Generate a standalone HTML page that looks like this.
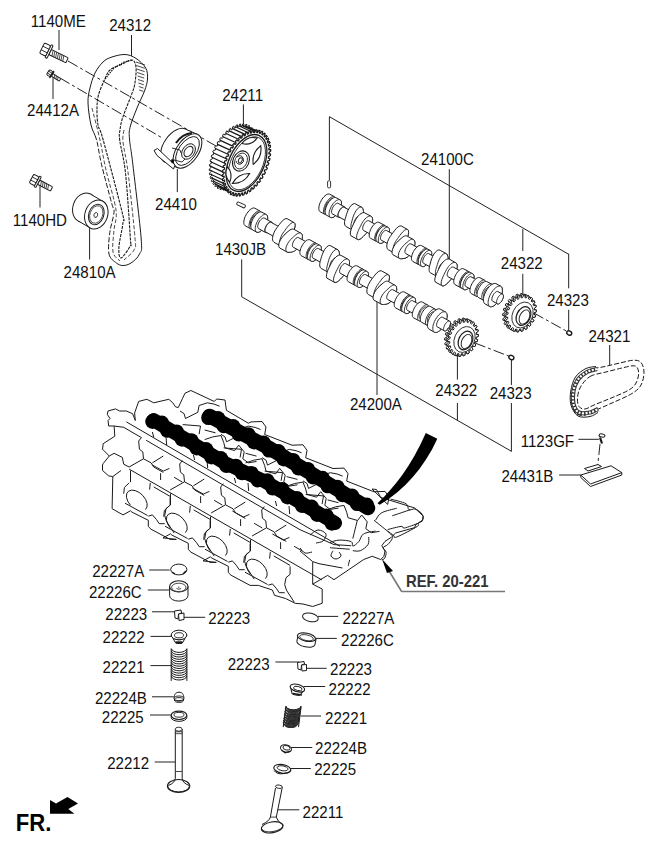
<!DOCTYPE html>
<html><head><meta charset="utf-8"><style>
html,body{margin:0;padding:0;background:#fff;width:659px;height:848px;overflow:hidden}
svg{display:block;font-family:"Liberation Sans",sans-serif;font-size:16.5px;fill:#111}
</style></head><body>
<svg width="659" height="848" viewBox="0 0 659 848">
<path d="M59 30L59 50 M131.5 35L131.5 56 M53 75L53 99 M243.4 104.4L243.4 126.7 M177.3 169L177.3 192 M40 186L40 207.5 M89.6 226L89.6 259.5 M449.3 169.2L449.3 259.3 M522.8 229.1L522.8 251 M522.8 273.8L522.8 294.7 M568.7 253.7L568.7 288.3 M568.7 309.8L568.7 331.1 M609.7 345L609.7 365 M377 296.8L377 395 M457.4 355L457.4 379.6 M457.4 403L457.4 420.4 M511.4 359.6L511.4 385 M511.4 403L511.4 451.4 M578.4 439.3L598.9 439.3 M559.1 475L580.8 475 M149.2 570L169.7 570 M147.8 590L169.7 590 M152 611.8L175 611.8 M182 617.3L205.2 617.3 M150.5 636.4L171 636.4 M150.5 665.6L171 665.6 M152 696.8L173.8 696.8 M150 715L171 715 M154.7 762L175.1 762 M318 616.4L338.2 616.4 M315.2 638.4L336.8 638.4 M275.4 662L299.3 662 M305 668.3L326.7 668.3 M303.6 686.5L325.2 686.5 M300.7 716L321 716 M290.6 747.5L312.3 747.5 M290.6 768.5L310.8 768.5 M277.7 809.8L299.3 809.8" stroke="#222" stroke-width="1" fill="none"/>
<path d="M329.4 116.7L568.7 254.3M329.4 116.7V180 M241.7 259.4V296.8L511.6 451.4" stroke="#222" stroke-width="1" fill="none"/>
<polygon points="108.7,426 108,420.5 110,418.5 107.3,414.4 108,411 115.5,408.9 119.6,411 126.4,411 132.6,413.7 135.3,420.5 134.6,413 138.7,401.4 146.9,399.3 153.7,402.8 168.8,399.3 172.8,402.8 175.6,406.9 178.3,407.5 182.4,398.7 185,393.2 190.9,390.5 214.1,401.4 216.9,399 225,400 226.4,410.3 248.3,423.2 251,421.9 262,421.5 266,427 264.7,434.5 292,445.2 303,444.8 307,450.3 305.7,457.8 333,468.5 344,468.1 348,473.6 346.7,481.1 374,491.8 385,491.4 389,496.9 387.7,504.4 372,489 376.5,489.5 380.7,497.4 414.7,508 423.2,516 422.2,521.2 415.8,524.4 414.7,527.6 395.6,533 391.4,537.2 385,541.4 381.8,545.7 385,551 383.9,556.3 380.7,559.5 372.2,556.3 363.7,559.5 334,579.7 327.6,575.4 312.7,584.2 322.2,589 322.2,603.3 312.7,606.5 303,604 295.2,603.3 285.6,598.5 274.5,595.3 272.4,590 258.3,585.4 250.1,585.4 231,575.2 228.3,572.5 228.3,566.3 211.9,558.1 210.5,556.8 203,560.9 216.3,562.4 210.1,562.4 191,552.2 188.3,549.5 188.3,543.3 171.9,535.1 170.5,533.8 163,537.9 176.3,539.4 170.1,539.4 151,529.2 148.3,526.5 148.3,520.3 131.9,512.1 130.5,510.8 123,514.9 112.1,508.7 112.8,476.6 108.7,475.9 102.5,470.5 102.5,465 103.2,463.5 109.3,456 102.5,449.2 103.2,443.7 114.8,436.2 114.1,426" fill="#fff" stroke="#1a1a1a" stroke-width="1" stroke-linejoin="round"/><polyline points="126.4,421.9 340,546.3" fill="none" stroke="#1a1a1a" stroke-width="1" stroke-linejoin="round"/><polyline points="146.2,440.3 300,529.7" fill="none" stroke="#1a1a1a" stroke-width="1" stroke-linejoin="round"/><polyline points="129.1,469.1 322,580" fill="none" stroke="#1a1a1a" stroke-width="1" stroke-linejoin="round"/><polyline points="112.8,476.6 121,470.5" fill="none" stroke="#1a1a1a" stroke-width="1" stroke-linejoin="round"/><polyline points="114.1,426 123.7,427.3 141.4,437.6" fill="none" stroke="#1a1a1a" stroke-width="1" stroke-linejoin="round"/><polyline points="300,551 312.7,561.6 319,563.7 342.5,568" fill="none" stroke="#1a1a1a" stroke-width="1" stroke-linejoin="round"/><polyline points="300,529.7 334,544.6 351,545.7" fill="none" stroke="#1a1a1a" stroke-width="1" stroke-linejoin="round"/><path d="M130.4 505.1A12.5 7.8 45 1 1 145.4 509.6" fill="none" stroke="#1a1a1a" stroke-width="1"/><polyline points="129.1,482.8 124.4,487.5 123.7,493.7" fill="none" stroke="#1a1a1a" stroke-width="1" stroke-linejoin="round"/><polyline points="130.5,470.5 130.5,482.1" fill="none" stroke="#1a1a1a" stroke-width="1" stroke-linejoin="round"/><polyline points="148.3,516.2 152.4,514.9 156.5,519.6 159.2,523.7 164.7,523.7" fill="none" stroke="#1a1a1a" stroke-width="1" stroke-linejoin="round"/><polyline points="125,503.2 147.6,515.5" fill="none" stroke="#1a1a1a" stroke-width="1" stroke-linejoin="round"/><polyline points="150.3,482.8 149.6,489.6" fill="none" stroke="#1a1a1a" stroke-width="1" stroke-linejoin="round"/><polyline points="160.6,473.2 160.6,480" fill="none" stroke="#1a1a1a" stroke-width="1" stroke-linejoin="round"/><polyline points="152.4,465 163.3,471.1 169.4,468.4" fill="none" stroke="#1a1a1a" stroke-width="1" stroke-linejoin="round"/><polyline points="174.2,477.3 182.4,482.1" fill="none" stroke="#1a1a1a" stroke-width="1" stroke-linejoin="round"/><polyline points="153.7,486.9 170.1,496.4" fill="none" stroke="#1a1a1a" stroke-width="1" stroke-linejoin="round"/><polyline points="170.1,497.5 170.1,505.3 166,508.7 164.7,515.5 166.4,521.1 174.2,533.1" fill="none" stroke="#1a1a1a" stroke-width="1" stroke-linejoin="round"/><path d="M170.4 528.1A12.5 7.8 45 1 1 185.4 532.6" fill="none" stroke="#1a1a1a" stroke-width="1"/><polyline points="169.1,505.8 164.4,510.5 163.7,516.7" fill="none" stroke="#1a1a1a" stroke-width="1" stroke-linejoin="round"/><polyline points="170.5,493.5 170.5,505.1" fill="none" stroke="#1a1a1a" stroke-width="1" stroke-linejoin="round"/><polyline points="188.3,539.2 192.4,537.9 196.5,542.6 199.2,546.7 204.7,546.7" fill="none" stroke="#1a1a1a" stroke-width="1" stroke-linejoin="round"/><polyline points="165,526.2 187.6,538.5" fill="none" stroke="#1a1a1a" stroke-width="1" stroke-linejoin="round"/><polyline points="190.3,505.8 189.6,512.6" fill="none" stroke="#1a1a1a" stroke-width="1" stroke-linejoin="round"/><polyline points="200.6,496.2 200.6,503" fill="none" stroke="#1a1a1a" stroke-width="1" stroke-linejoin="round"/><polyline points="192.4,488 203.3,494.1 209.4,491.4" fill="none" stroke="#1a1a1a" stroke-width="1" stroke-linejoin="round"/><polyline points="214.2,500.3 222.4,505.1" fill="none" stroke="#1a1a1a" stroke-width="1" stroke-linejoin="round"/><polyline points="193.7,509.9 210.1,519.4" fill="none" stroke="#1a1a1a" stroke-width="1" stroke-linejoin="round"/><polyline points="210.1,520.5 210.1,528.3 206,531.7 204.7,538.5 206.4,544.1 214.2,556.1" fill="none" stroke="#1a1a1a" stroke-width="1" stroke-linejoin="round"/><path d="M210.4 551.1A12.5 7.8 45 1 1 225.4 555.6" fill="none" stroke="#1a1a1a" stroke-width="1"/><polyline points="209.1,528.8 204.4,533.5 203.7,539.7" fill="none" stroke="#1a1a1a" stroke-width="1" stroke-linejoin="round"/><polyline points="210.5,516.5 210.5,528.1" fill="none" stroke="#1a1a1a" stroke-width="1" stroke-linejoin="round"/><polyline points="228.3,562.2 232.4,560.9 236.5,565.6 239.2,569.7 244.7,569.7" fill="none" stroke="#1a1a1a" stroke-width="1" stroke-linejoin="round"/><polyline points="205,549.2 227.6,561.5" fill="none" stroke="#1a1a1a" stroke-width="1" stroke-linejoin="round"/><polyline points="230.3,528.8 229.6,535.6" fill="none" stroke="#1a1a1a" stroke-width="1" stroke-linejoin="round"/><polyline points="240.6,519.2 240.6,526" fill="none" stroke="#1a1a1a" stroke-width="1" stroke-linejoin="round"/><polyline points="232.4,511 243.3,517.1 249.4,514.4" fill="none" stroke="#1a1a1a" stroke-width="1" stroke-linejoin="round"/><polyline points="254.2,523.3 262.4,528.1" fill="none" stroke="#1a1a1a" stroke-width="1" stroke-linejoin="round"/><polyline points="233.7,532.9 250.1,542.4" fill="none" stroke="#1a1a1a" stroke-width="1" stroke-linejoin="round"/><polyline points="250.1,543.5 250.1,551.3 246,554.7 244.7,561.5 246.4,567.1 254.2,579.1" fill="none" stroke="#1a1a1a" stroke-width="1" stroke-linejoin="round"/><path d="M250.4 574.1A12.5 7.8 45 1 1 265.4 578.6" fill="none" stroke="#1a1a1a" stroke-width="1"/><polyline points="249.1,551.8 244.4,556.5 243.7,562.7" fill="none" stroke="#1a1a1a" stroke-width="1" stroke-linejoin="round"/><polyline points="250.5,539.5 250.5,551.1" fill="none" stroke="#1a1a1a" stroke-width="1" stroke-linejoin="round"/><polyline points="268.3,585.2 272.4,583.9 276.5,588.6 279.2,592.7 284.7,592.7" fill="none" stroke="#1a1a1a" stroke-width="1" stroke-linejoin="round"/><polyline points="245,572.2 267.6,584.5" fill="none" stroke="#1a1a1a" stroke-width="1" stroke-linejoin="round"/><polyline points="270.3,551.8 269.6,558.6" fill="none" stroke="#1a1a1a" stroke-width="1" stroke-linejoin="round"/><polyline points="280.6,542.2 280.6,549" fill="none" stroke="#1a1a1a" stroke-width="1" stroke-linejoin="round"/><polyline points="272.4,534 283.3,540.1 289.4,537.4" fill="none" stroke="#1a1a1a" stroke-width="1" stroke-linejoin="round"/><polyline points="294.2,546.3 302.4,551.1" fill="none" stroke="#1a1a1a" stroke-width="1" stroke-linejoin="round"/><polyline points="273.7,555.9 290.1,565.4" fill="none" stroke="#1a1a1a" stroke-width="1" stroke-linejoin="round"/><polyline points="290.1,566.5 290.1,574.3 286,577.7 284.7,584.5 286.4,590.1 294.2,602.1" fill="none" stroke="#1a1a1a" stroke-width="1" stroke-linejoin="round"/><polyline points="141.4,437.6 138.7,441 139.4,449.2 142.8,451.9 143.5,458.8 151,462.8 153.7,467 163.3,472.4" fill="none" stroke="#1a1a1a" stroke-width="1" stroke-linejoin="round"/><polyline points="129.1,467 143.5,458.8" fill="none" stroke="#1a1a1a" stroke-width="1" stroke-linejoin="round"/><polyline points="152.4,462.8 163.3,456" fill="none" stroke="#1a1a1a" stroke-width="1" stroke-linejoin="round"/><polyline points="152.4,432 153.7,437" fill="none" stroke="#1a1a1a" stroke-width="1" stroke-linejoin="round"/><polyline points="166,437 166.7,445" fill="none" stroke="#1a1a1a" stroke-width="1" stroke-linejoin="round"/><polyline points="182.4,460.6 179.7,464 180.4,472.2 183.8,474.9 184.5,481.8 192,485.8 194.7,490 204.3,495.4" fill="none" stroke="#1a1a1a" stroke-width="1" stroke-linejoin="round"/><polyline points="170.1,490 184.5,481.8" fill="none" stroke="#1a1a1a" stroke-width="1" stroke-linejoin="round"/><polyline points="193.4,485.8 204.3,479" fill="none" stroke="#1a1a1a" stroke-width="1" stroke-linejoin="round"/><polyline points="193.4,455 194.7,460" fill="none" stroke="#1a1a1a" stroke-width="1" stroke-linejoin="round"/><polyline points="207,460 207.7,468" fill="none" stroke="#1a1a1a" stroke-width="1" stroke-linejoin="round"/><polyline points="223.4,483.6 220.7,487 221.4,495.2 224.8,497.9 225.5,504.8 233,508.8 235.7,513 245.3,518.4" fill="none" stroke="#1a1a1a" stroke-width="1" stroke-linejoin="round"/><polyline points="211.1,513 225.5,504.8" fill="none" stroke="#1a1a1a" stroke-width="1" stroke-linejoin="round"/><polyline points="234.4,508.8 245.3,502" fill="none" stroke="#1a1a1a" stroke-width="1" stroke-linejoin="round"/><polyline points="234.4,478 235.7,483" fill="none" stroke="#1a1a1a" stroke-width="1" stroke-linejoin="round"/><polyline points="248,483 248.7,491" fill="none" stroke="#1a1a1a" stroke-width="1" stroke-linejoin="round"/><polyline points="264.4,506.6 261.7,510 262.4,518.2 265.8,520.9 266.5,527.8 274,531.8 276.7,536 286.3,541.4" fill="none" stroke="#1a1a1a" stroke-width="1" stroke-linejoin="round"/><polyline points="252.1,536 266.5,527.8" fill="none" stroke="#1a1a1a" stroke-width="1" stroke-linejoin="round"/><polyline points="275.4,531.8 286.3,525" fill="none" stroke="#1a1a1a" stroke-width="1" stroke-linejoin="round"/><polyline points="275.4,501 276.7,506" fill="none" stroke="#1a1a1a" stroke-width="1" stroke-linejoin="round"/><polyline points="289,506 289.7,514" fill="none" stroke="#1a1a1a" stroke-width="1" stroke-linejoin="round"/><polyline points="109.3,456 114.1,453.3 122.3,457.4 123.7,464.2 129.1,467" fill="none" stroke="#1a1a1a" stroke-width="1" stroke-linejoin="round"/><polyline points="204.6,439.6 212.8,436.9 221,435.5 223.7,442.4 225,447.8 234.6,450.6 238.7,445.1 244.2,451.9 242.8,458.8 248.3,462.8 256.5,461.5" fill="none" stroke="#1a1a1a" stroke-width="1" stroke-linejoin="round"/><polyline points="182.7,424.6 200.5,426 199.1,434.2" fill="none" stroke="#1a1a1a" stroke-width="1" stroke-linejoin="round"/><polyline points="204.6,430 215.5,432.8" fill="none" stroke="#1a1a1a" stroke-width="1" stroke-linejoin="round"/><polyline points="180,411 184.1,413.7 185.5,418.5 197.8,412.3 199.1,405.5 207.3,402.8 214.1,404.1 219.6,406.2" fill="none" stroke="#1a1a1a" stroke-width="1" stroke-linejoin="round"/><polyline points="245.6,462.9 253.8,460.2 262,458.8 264.7,465.7 266,471.1 275.6,473.9 279.7,468.4 285.2,475.2 283.8,482.1 289.3,486.1 297.5,484.8" fill="none" stroke="#1a1a1a" stroke-width="1" stroke-linejoin="round"/><polyline points="223.7,447.9 241.5,449.3 240.1,457.5" fill="none" stroke="#1a1a1a" stroke-width="1" stroke-linejoin="round"/><polyline points="245.6,453.3 256.5,456.1" fill="none" stroke="#1a1a1a" stroke-width="1" stroke-linejoin="round"/><polyline points="221,434.3 225.1,437 226.5,441.8 238.8,435.6 240.1,428.8 248.3,426.1 255.1,427.4 260.6,429.5" fill="none" stroke="#1a1a1a" stroke-width="1" stroke-linejoin="round"/><polyline points="286.6,486.2 294.8,483.5 303,482.1 305.7,489 307,494.4 316.6,497.2 320.7,491.7 326.2,498.5 324.8,505.4 330.3,509.4 338.5,508.1" fill="none" stroke="#1a1a1a" stroke-width="1" stroke-linejoin="round"/><polyline points="264.7,471.2 282.5,472.6 281.1,480.8" fill="none" stroke="#1a1a1a" stroke-width="1" stroke-linejoin="round"/><polyline points="286.6,476.6 297.5,479.4" fill="none" stroke="#1a1a1a" stroke-width="1" stroke-linejoin="round"/><polyline points="262,457.6 266.1,460.3 267.5,465.1 279.8,458.9 281.1,452.1 289.3,449.4 296.1,450.7 301.6,452.8" fill="none" stroke="#1a1a1a" stroke-width="1" stroke-linejoin="round"/><polyline points="327.6,509.5 335.8,506.8 344,505.4 346.7,512.3 348,517.7 357.6,520.5 361.7,515 367.2,521.8 365.8,528.7 371.3,532.7 379.5,531.4" fill="none" stroke="#1a1a1a" stroke-width="1" stroke-linejoin="round"/><polyline points="305.7,494.5 323.5,495.9 322.1,504.1" fill="none" stroke="#1a1a1a" stroke-width="1" stroke-linejoin="round"/><polyline points="327.6,499.9 338.5,502.7" fill="none" stroke="#1a1a1a" stroke-width="1" stroke-linejoin="round"/><polyline points="303,480.9 307.1,483.6 308.5,488.4 320.8,482.2 322.1,475.4 330.3,472.7 337.1,474 342.6,476.1" fill="none" stroke="#1a1a1a" stroke-width="1" stroke-linejoin="round"/><polyline points="312.7,562 312.7,584.2" fill="none" stroke="#1a1a1a" stroke-width="1" stroke-linejoin="round"/><path d="M390.7 499.1C393.2 499.9 402.9 501.9 405.9 503.7C408.9 505.5 407.4 508.8 408.9 509.7C410.4 510.6 413 508.5 415 509C417 509.5 419.6 511.2 421 512.8C422.4 514.4 423.8 517 423.3 518.8C422.8 520.6 419 522.1 418 523.4C417 524.7 420.8 524.1 417.3 526.4C413.8 528.7 400.7 535.5 396.8 537C392.9 538.5 395.2 536.5 393.7 535.5C392.2 534.5 388.7 531.8 387.7 531" fill="none" stroke="#1a1a1a" stroke-width="1"/><path d="M375.5 520.3C376.5 519 378.1 514.8 381.6 512.8C385.2 510.8 394.3 509 396.8 508.2" fill="none" stroke="#1a1a1a" stroke-width="1"/><path d="M387.7 529.5C390 529 398.5 526.6 401.3 526.4C404.1 526.1 401.6 528.5 404.4 528C407.2 527.5 415.7 524.2 418 523.4" fill="none" stroke="#1a1a1a" stroke-width="1"/><path d="M392.2 515.8C395.2 514.8 407.4 510.7 410.4 509.7" fill="none" stroke="#1a1a1a" stroke-width="1"/><path d="M374 520.3C376.8 522.6 387.7 531 390.7 534C393.7 537 392.7 536.8 392.2 538.6C391.7 540.4 389.2 543.1 387.7 544.6C386.2 546.1 383.4 546.4 383.1 547.7C382.8 549 385.9 550.4 386.1 552.2C386.4 554 385.4 557 384.6 558.3C383.9 559.6 382.1 559.5 381.6 559.8" fill="none" stroke="#1a1a1a" stroke-width="1"/><path d="M375.5 531C373.5 531.5 366.2 532.2 363.4 534C360.6 535.8 360.6 539.6 358.8 541.6C357 543.6 354.1 546.1 352.8 546.1C351.5 546.1 353.5 542.6 351.2 541.6C348.9 540.6 342.6 540 339.1 540.1C335.6 540.2 331.5 542 330 542.4" fill="none" stroke="#1a1a1a" stroke-width="1"/><path d="M368.7 537C368.6 538.3 369.4 542.3 368 544.6C366.6 546.9 362.8 549.7 360.3 550.7C357.8 551.7 354.1 550.7 352.8 550.7" fill="none" stroke="#1a1a1a" stroke-width="1"/><path d="M357.3 520.3C356.6 523.3 353.6 535.5 352.8 538.6" fill="none" stroke="#1a1a1a" stroke-width="1"/><path d="M330 547.7C333.3 548 346.4 549 349.7 549.2" fill="none" stroke="#1a1a1a" stroke-width="1"/><path d="M333 550.7C332.7 551.6 330.5 554.6 331 556C331.5 557.4 334.3 559 336 559C337.7 559 340.5 557.2 341 556C341.5 554.8 339.4 552.7 339.1 552" fill="none" stroke="#1a1a1a" stroke-width="1"/><path d="M349.7 559.8C349.4 560.8 348.4 564.9 348.2 565.9" fill="none" stroke="#1a1a1a" stroke-width="1"/><path d="M310 535C311.3 534.2 315.3 530.2 318 530C320.7 529.8 325.2 532.2 326 534C326.8 535.8 324.7 539.5 323 541C321.3 542.5 317.2 542.7 316 543" fill="none" stroke="#1a1a1a" stroke-width="1"/><path d="M300 548C300.8 548.8 303 552.3 305 553C307 553.7 310.8 552.2 312 552" fill="none" stroke="#1a1a1a" stroke-width="1"/><path d="M209.5 416L270 448.5L368 508" stroke="#000" stroke-width="14.5" stroke-linecap="round" stroke-linejoin="round" fill="none"/><circle cx="208.6" cy="417.7" r="7.4" fill="#000"/><circle cx="218.0" cy="418.4" r="7.4" fill="#000"/><circle cx="223.8" cy="425.8" r="7.4" fill="#000"/><circle cx="233.1" cy="426.5" r="7.4" fill="#000"/><circle cx="238.9" cy="434.0" r="7.4" fill="#000"/><circle cx="248.3" cy="434.7" r="7.4" fill="#000"/><circle cx="254.1" cy="442.1" r="7.4" fill="#000"/><circle cx="263.4" cy="442.8" r="7.4" fill="#000"/><circle cx="269.1" cy="450.2" r="7.4" fill="#000"/><circle cx="278.4" cy="451.4" r="7.4" fill="#000"/><circle cx="283.8" cy="459.1" r="7.4" fill="#000"/><circle cx="293.1" cy="460.3" r="7.4" fill="#000"/><circle cx="298.5" cy="468.0" r="7.4" fill="#000"/><circle cx="307.8" cy="469.3" r="7.4" fill="#000"/><circle cx="313.2" cy="477.0" r="7.4" fill="#000"/><circle cx="322.5" cy="478.2" r="7.4" fill="#000"/><circle cx="327.9" cy="485.9" r="7.4" fill="#000"/><circle cx="337.3" cy="487.1" r="7.4" fill="#000"/><circle cx="342.6" cy="494.8" r="7.4" fill="#000"/><circle cx="352.0" cy="496.0" r="7.4" fill="#000"/><circle cx="357.3" cy="503.7" r="7.4" fill="#000"/><circle cx="366.7" cy="505.0" r="7.4" fill="#000"/><path d="M153.5 420L225 463L265 481.5L335 523" stroke="#000" stroke-width="14" stroke-linecap="round" stroke-linejoin="round" fill="none"/><circle cx="152.5" cy="421.6" r="7.3" fill="#000"/><circle cx="161.8" cy="422.8" r="7.3" fill="#000"/><circle cx="167.3" cy="430.5" r="7.3" fill="#000"/><circle cx="176.6" cy="431.7" r="7.3" fill="#000"/><circle cx="182.0" cy="439.4" r="7.3" fill="#000"/><circle cx="191.3" cy="440.5" r="7.3" fill="#000"/><circle cx="196.7" cy="448.2" r="7.3" fill="#000"/><circle cx="206.1" cy="449.4" r="7.3" fill="#000"/><circle cx="211.5" cy="457.1" r="7.3" fill="#000"/><circle cx="220.8" cy="458.3" r="7.3" fill="#000"/><circle cx="226.5" cy="465.8" r="7.3" fill="#000"/><circle cx="235.9" cy="466.0" r="7.3" fill="#000"/><circle cx="242.1" cy="473.0" r="7.3" fill="#000"/><circle cx="251.5" cy="473.2" r="7.3" fill="#000"/><circle cx="257.8" cy="480.2" r="7.3" fill="#000"/><circle cx="267.3" cy="480.6" r="7.3" fill="#000"/><circle cx="272.7" cy="488.3" r="7.3" fill="#000"/><circle cx="282.1" cy="489.4" r="7.3" fill="#000"/><circle cx="287.5" cy="497.1" r="7.3" fill="#000"/><circle cx="296.8" cy="498.2" r="7.3" fill="#000"/><circle cx="302.3" cy="505.8" r="7.3" fill="#000"/><circle cx="311.6" cy="506.9" r="7.3" fill="#000"/><circle cx="317.1" cy="514.6" r="7.3" fill="#000"/><circle cx="326.4" cy="515.7" r="7.3" fill="#000"/><circle cx="331.9" cy="523.4" r="7.3" fill="#000"/><path d="M425.8 433L437.3 438.7C424 468 404 490 379.7 504.8L377.5 503.2C394 488 412 465 425.8 433Z" fill="#000"/>
<path d="M125 54.5C121 54.3 115.7 55.8 112 57C108.3 58.2 105.8 59.3 103 62C100.2 64.7 97.2 68.7 95 73C92.8 77.3 91.2 83 90 88C88.8 93 87.8 96.8 88 103C88.2 109.2 89.6 118.8 91 125C92.4 131.2 94.8 133.4 96.6 140C98.4 146.6 99.1 154.4 101.6 164.8C104.1 175.2 109.4 194.7 111.5 202.7C113.6 210.7 114.3 207.6 114 212.6C113.7 217.6 110.6 225.6 109.8 232.5C109 239.4 107.9 248.9 109 254C110.1 259.1 114.1 261.1 116.4 263C118.7 264.9 120.6 265.5 123 265.5C125.4 265.5 128.2 264.9 131 263C133.8 261.1 137.8 258 139.5 254C141.2 250 142.3 253.9 141.2 239C140.1 224.1 134.8 181.3 132.9 164.8C131 148.3 130.1 146.2 129.6 140C129.1 133.8 128.8 132.8 130 127.5C131.2 122.2 134.6 114.1 137 108C139.4 101.9 142.8 95.8 144.5 91C146.2 86.2 147.3 82.8 147.5 79C147.7 75.2 147.6 71.4 145.7 68C143.8 64.6 139.4 60.6 136 58.4C132.6 56.1 129 54.7 125 54.5Z" fill="none" stroke="#1a1a1a" stroke-width="1"/>
<path d="M121.4 64.4C117.7 66.1 112.8 67.4 110 70C107.2 72.6 106.3 75.8 104.4 80C102.5 84.2 99.7 90.3 98.5 95C97.3 99.7 97.1 103 97 108C96.9 113 97 119.7 98 125C99 130.3 99.2 125.4 103.2 140C107.2 154.6 118.9 198.8 122.2 212.6C125.5 226.3 123.5 216.7 123 222.5C122.5 228.3 119.2 241.4 118.9 247.3C118.6 253.2 119.1 258.3 121 258C122.9 257.7 128.8 248.9 130.4 245.7C132 242.5 131.2 251.1 130.4 239C129.6 226.9 127.3 189.5 125.5 173C123.7 156.5 120.6 147.2 119.7 140C118.8 132.8 119.5 133.7 120 130C120.5 126.3 120.8 123.5 122.6 117.8C124.4 112.1 129 101.6 131 96C133 90.4 134 88.8 134.8 84C135.6 79.2 136.5 71 136 67C135.5 63 134.4 60.4 132 60C129.6 59.6 125.1 62.7 121.4 64.4Z" fill="none" stroke="#1a1a1a" stroke-width="1.1" stroke-dasharray="3 1"/>
<path d="M92 108C93.3 113.3 97.7 129.7 100 140C102.3 150.3 103.3 158.3 106 170C108.7 181.7 114.7 200 116 210C117.3 220 114.5 223 114 230C113.5 237 112 246.8 113 252C114 257.2 118.8 259.5 120 261" fill="none" stroke="#1a1a1a" stroke-width="0.8" stroke-dasharray="4 2"/>
<path d="M124 130C123.8 132 122.3 135 123 142C123.7 149 126 156 128 172C130 188 134 225 135 238C136 251 135.8 246.3 134 250C132.2 253.7 125.7 258.3 124 260" fill="none" stroke="#1a1a1a" stroke-width="0.8" stroke-dasharray="4 2"/>
<path d="M96.6 140C97.4 144.1 99.1 154.4 101.6 164.8C104.1 175.2 109.4 194.7 111.5 202.7C113.6 210.7 114.3 207.6 114 212.6C113.7 217.6 110.6 225.6 109.8 232.5C109 239.4 109.1 250.4 109 254" fill="none" stroke="#fff" stroke-width="2" stroke-dasharray="2 5"/>
<path d="M136 62l9 3M136.4 65.5l8.4 2.8M136.8 69l7.8 2.6M137.2 72.5l7.2 2.4M137.6 76l6.6 2.2M138 79.5l6 2M138.4 83l5.4 1.8M138.8 86.5l4.8 1.6M139.2 90l4.2 1.4" stroke="#1a1a1a" stroke-width="0.8"/>
<polyline points="105,79 114,68 124,62 133,60" fill="none" stroke="#1a1a1a" stroke-width="1.2" stroke-linejoin="round" stroke-dasharray="1.5 1"/>
<path d="M68 61L216 146 M60 78L163 138.4 M533.7 312.9L566.5 331.1 M475 343L511 357 M600 444L597.7 465.8" stroke="#222" stroke-width="1" fill="none" stroke-dasharray="11 3 3 3"/>
<g transform="translate(42 48) rotate(26.2)"><rect x="9" y="-2.8" width="18.9" height="5.6" fill="#fff" stroke="#1a1a1a" stroke-width="1" rx="1"/><path d="M11 -2.8l1.5 5.6M13 -2.8l1.5 5.6M15 -2.8l1.5 5.6M17 -2.8l1.5 5.6M19 -2.8l1.5 5.6M21 -2.8l1.5 5.6M23 -2.8l1.5 5.6" stroke="#1a1a1a" stroke-width="0.7"/><rect x="6.8" y="-7.1" width="2.2" height="14.3" fill="#fff" stroke="#1a1a1a" stroke-width="1" rx="1"/><rect x="0" y="-5.8" width="6.8" height="11.6" fill="#fff" stroke="#1a1a1a" stroke-width="1" rx="1.5"/><path d="M0 -2H6.8M0 2H6.8" stroke="#1a1a1a" stroke-width="0.8"/></g>
<g transform="translate(48 72) rotate(33.7)"><rect x="5" y="-1.5" width="9.4" height="3" fill="#fff" stroke="#1a1a1a" stroke-width="1" rx="1"/><path d="M7 -1.5l1.5 3M9 -1.5l1.5 3M11 -1.5l1.5 3" stroke="#1a1a1a" stroke-width="0.7"/><rect x="4" y="-3.7" width="1" height="7.4" fill="#fff" stroke="#1a1a1a" stroke-width="1" rx="1"/><rect x="0" y="-3" width="4" height="6" fill="#fff" stroke="#1a1a1a" stroke-width="1" rx="1.5"/><path d="M0 -1.1H4M0 1.1H4" stroke="#1a1a1a" stroke-width="0.8"/></g>
<g transform="translate(31.5 178.5) rotate(27.7)"><rect x="8" y="-2.4" width="14.6" height="4.8" fill="#fff" stroke="#1a1a1a" stroke-width="1" rx="1"/><path d="M10 -2.4l1.5 4.8M12 -2.4l1.5 4.8M14 -2.4l1.5 4.8M16 -2.4l1.5 4.8M18 -2.4l1.5 4.8" stroke="#1a1a1a" stroke-width="0.7"/><rect x="6" y="-6.1" width="2" height="12.2" fill="#fff" stroke="#1a1a1a" stroke-width="1" rx="1"/><rect x="0" y="-4.9" width="6" height="9.9" fill="#fff" stroke="#1a1a1a" stroke-width="1" rx="1.5"/><path d="M0 -1.7H6M0 1.7H6" stroke="#1a1a1a" stroke-width="0.8"/></g>
<ellipse cx="84.3" cy="207.5" rx="11.3" ry="14.8" fill="#fff" stroke="#1a1a1a" stroke-width="1" transform="rotate(20 84.3 207.5)"/><polygon points="102.8,201.3 90.8,194.3 77.8,220.7 89.8,227.7" fill="#fff" stroke="#1a1a1a" stroke-width="0" stroke-linejoin="round"/><polyline points="102.8,201.3 90.8,194.3" fill="none" stroke="#1a1a1a" stroke-width="1" stroke-linejoin="round"/><polyline points="89.8,227.7 77.8,220.7" fill="none" stroke="#1a1a1a" stroke-width="1" stroke-linejoin="round"/><ellipse cx="96.3" cy="214.5" rx="11.3" ry="14.8" fill="#fff" stroke="#1a1a1a" stroke-width="1" transform="rotate(20 96.3 214.5)"/>
<ellipse cx="96.3" cy="214.5" rx="7.5" ry="10.5" fill="#fff" stroke="#1a1a1a" stroke-width="1" transform="rotate(20 96.3 214.5)"/>
<ellipse cx="96.3" cy="214.5" rx="6.3" ry="9" fill="#fff" stroke="#1a1a1a" stroke-width="0.7" transform="rotate(20 96.3 214.5)"/>
<ellipse cx="95.8" cy="215" rx="1.8" ry="2.5" fill="#fff" stroke="#1a1a1a" stroke-width="0.8" transform="rotate(20 95.8 215)"/>
<ellipse cx="175" cy="145.5" rx="11" ry="19.5" fill="#fff" stroke="#1a1a1a" stroke-width="1" transform="rotate(35 175 145.5)"/><polygon points="197.7,134.5 185.2,129 164.8,162 177.3,167.5" fill="#fff" stroke="#1a1a1a" stroke-width="0" stroke-linejoin="round"/><polyline points="197.7,134.5 185.2,129" fill="none" stroke="#1a1a1a" stroke-width="1" stroke-linejoin="round"/><polyline points="177.3,167.5 164.8,162" fill="none" stroke="#1a1a1a" stroke-width="1" stroke-linejoin="round"/><ellipse cx="187.5" cy="151" rx="11" ry="19.5" fill="#fff" stroke="#1a1a1a" stroke-width="1" transform="rotate(35 187.5 151)"/>
<ellipse cx="187.5" cy="151" rx="8.8" ry="16.5" fill="#fff" stroke="#1a1a1a" stroke-width="0.9" transform="rotate(35 187.5 151)"/>
<path d="M176 143q6 -9 16 -10" fill="none" stroke="#1a1a1a" stroke-width="2.2"/>
<ellipse cx="188.5" cy="151.5" rx="6" ry="8.5" fill="#fff" stroke="#1a1a1a" stroke-width="0.9" transform="rotate(35 188.5 151.5)"/>
<ellipse cx="188.5" cy="151.5" rx="3.8" ry="5.8" fill="#fff" stroke="#1a1a1a" stroke-width="1" transform="rotate(35 188.5 151.5)"/>
<polygon points="154,150.5 157.5,148.5 175,165 173.5,169 157,155.5" fill="#fff" stroke="#1a1a1a" stroke-width="1" stroke-linejoin="round"/>
<polyline points="172,148 180,150 181,153" fill="none" stroke="#1a1a1a" stroke-width="0.9" stroke-linejoin="round"/>
<polyline points="174,160 182,162 185,159" fill="none" stroke="#1a1a1a" stroke-width="0.9" stroke-linejoin="round"/>
<ellipse cx="172.5" cy="161" rx="1.4" ry="1.8" fill="#000" stroke="#1a1a1a" stroke-width="0.5"/>
<polygon points="251.2,165.2 252.3,166.6 251.5,168.2 249.8,167.9 249,169.3 249.9,171 249,172.5 247.5,171.9 246.6,173.2 247.2,175.1 246.2,176.5 244.8,175.5 243.9,176.7 244.3,178.9 243.2,180.1 242,178.8 240.9,179.9 241.1,182.2 239.9,183.2 239,181.6 237.9,182.5 237.7,185 236.5,185.8 235.8,184 234.7,184.7 234.3,187.2 233.1,187.9 232.6,185.7 231.5,186.2 230.8,188.8 229.6,189.2 229.4,186.9 228.3,187.2 227.4,189.8 226.3,190 226.4,187.5 225.3,187.6 224.1,190.1 223,190 223.4,187.5 222.4,187.3 221.1,189.7 220,189.4 220.7,186.8 219.8,186.5 218.2,188.7 217.3,188.2 218.2,185.6 217.4,185 215.7,187 214.9,186.2 216,183.7 215.3,182.9 213.6,184.7 212.9,183.7 214.2,181.3 213.7,180.4 211.8,181.8 211.3,180.7 212.8,178.4 212.4,177.3 210.5,178.5 210.1,177.2 211.8,175.1 211.5,173.9 209.6,174.7 209.5,173.2 211.2,171.4 211.1,170.1 209.3,170.5 209.3,169 211.1,167.4 211.2,166 209.4,166 209.6,164.4 211.5,163.2 211.7,161.7 210.1,161.4 210.4,159.8 212.3,158.9 212.7,157.4 211.2,156.7 211.7,155.1 213.5,154.6 214.1,153 212.7,152 213.4,150.4 215.2,150.2 215.8,148.8 214.7,147.4 215.5,145.8 217.2,146.1 218,144.7 217.1,143 218,141.5 219.5,142.1 220.4,140.8 219.8,138.9 220.8,137.5 222.2,138.5 223.1,137.3 222.7,135.1 223.8,133.9 225,135.2 226.1,134.1 225.9,131.8 227.1,130.8 228,132.4 229.1,131.5 229.3,129 230.5,128.2 231.2,130 232.3,129.3 232.7,126.8 233.9,126.1 234.4,128.3 235.5,127.8 236.2,125.2 237.4,124.8 237.6,127.1 238.7,126.8 239.6,124.2 240.7,124 240.6,126.5 241.7,126.4 242.9,123.9 244,124 243.6,126.5 244.6,126.7 245.9,124.3 247,124.6 246.3,127.2 247.2,127.5 248.8,125.3 249.7,125.8 248.8,128.4 249.6,129 251.3,127 252.1,127.8 251,130.3 251.7,131.1 253.4,129.3 254.1,130.3 252.8,132.7 253.3,133.6 255.2,132.2 255.7,133.3 254.2,135.6 254.6,136.7 256.5,135.5 256.9,136.8 255.2,138.9 255.5,140.1 257.4,139.3 257.5,140.8 255.8,142.6 255.9,143.9 257.7,143.5 257.7,145 255.9,146.6 255.8,148 257.6,148 257.4,149.6 255.5,150.8 255.3,152.3 256.9,152.6 256.6,154.2 254.7,155.1 254.3,156.6 255.8,157.3 255.3,158.9 253.5,159.4 252.9,161 254.3,162 253.6,163.6 251.8,163.8" fill="#fff" stroke="#1a1a1a" stroke-width="1" stroke-linejoin="round"/><polygon points="260.9,132.1 247.9,126.1 219.1,187.9 232.1,193.9" fill="#fff" stroke="none" stroke-width="0" stroke-linejoin="round"/><polygon points="264.2,171.2 265.3,172.6 264.5,174.2 262.8,173.9 262,175.3 262.9,177 262,178.5 260.5,177.9 259.6,179.2 260.2,181.1 259.2,182.5 257.8,181.5 256.9,182.7 257.3,184.9 256.2,186.1 255,184.8 253.9,185.9 254.1,188.2 252.9,189.2 252,187.6 250.9,188.5 250.7,191 249.5,191.8 248.8,190 247.7,190.7 247.3,193.2 246.1,193.9 245.6,191.7 244.5,192.2 243.8,194.8 242.6,195.2 242.4,192.9 241.3,193.2 240.4,195.8 239.3,196 239.4,193.5 238.3,193.6 237.1,196.1 236,196 236.4,193.5 235.4,193.3 234.1,195.7 233,195.4 233.7,192.8 232.8,192.5 231.2,194.7 230.3,194.2 231.2,191.6 230.4,191 228.7,193 227.9,192.2 229,189.7 228.3,188.9 226.6,190.7 225.9,189.7 227.2,187.3 226.7,186.4 224.8,187.8 224.3,186.7 225.8,184.4 225.4,183.3 223.5,184.5 223.1,183.2 224.8,181.1 224.5,179.9 222.6,180.7 222.5,179.2 224.2,177.4 224.1,176.1 222.3,176.5 222.3,175 224.1,173.4 224.2,172 222.4,172 222.6,170.4 224.5,169.2 224.7,167.7 223.1,167.4 223.4,165.8 225.3,164.9 225.7,163.4 224.2,162.7 224.7,161.1 226.5,160.6 227.1,159 225.7,158 226.4,156.4 228.2,156.2 228.8,154.8 227.7,153.4 228.5,151.8 230.2,152.1 231,150.7 230.1,149 231,147.5 232.5,148.1 233.4,146.8 232.8,144.9 233.8,143.5 235.2,144.5 236.1,143.3 235.7,141.1 236.8,139.9 238,141.2 239.1,140.1 238.9,137.8 240.1,136.8 241,138.4 242.1,137.5 242.3,135 243.5,134.2 244.2,136 245.3,135.3 245.7,132.8 246.9,132.1 247.4,134.3 248.5,133.8 249.2,131.2 250.4,130.8 250.6,133.1 251.7,132.8 252.6,130.2 253.7,130 253.6,132.5 254.7,132.4 255.9,129.9 257,130 256.6,132.5 257.6,132.7 258.9,130.3 260,130.6 259.3,133.2 260.2,133.5 261.8,131.3 262.7,131.8 261.8,134.4 262.6,135 264.3,133 265.1,133.8 264,136.3 264.7,137.1 266.4,135.3 267.1,136.3 265.8,138.7 266.3,139.6 268.2,138.2 268.7,139.3 267.2,141.6 267.6,142.7 269.5,141.5 269.9,142.8 268.2,144.9 268.5,146.1 270.4,145.3 270.5,146.8 268.8,148.6 268.9,149.9 270.7,149.5 270.7,151 268.9,152.6 268.8,154 270.6,154 270.4,155.6 268.5,156.8 268.3,158.3 269.9,158.6 269.6,160.2 267.7,161.1 267.3,162.6 268.8,163.3 268.3,164.9 266.5,165.4 265.9,167 267.3,168 266.6,169.6 264.8,169.8" fill="#fff" stroke="#1a1a1a" stroke-width="1" stroke-linejoin="round"/>
<path d="M265.1 171.7l-13 -6M262.9 175.9l-13 -6M260.3 179.9l-13 -6M257.5 183.5l-13 -6M254.5 186.7l-13 -6M251.3 189.4l-13 -6M248 191.6l-13 -6M244.6 193.2l-13 -6M241.3 194.2l-13 -6M238.2 194.6l-13 -6M235.1 194.3l-13 -6M232.3 193.4l-13 -6M229.8 191.8l-13 -6M227.7 189.7l-13 -6M225.9 187l-13 -6M224.5 183.9l-13 -6M223.6 180.3l-13 -6M223.2 176.3l-13 -6M223.2 172.1l-13 -6M223.7 167.7l-13 -6M224.7 163.2l-13 -6M226.1 158.7l-13 -6M227.9 154.3l-13 -6M230.1 150.1l-13 -6M232.7 146.1l-13 -6M235.5 142.5l-13 -6M238.5 139.3l-13 -6M241.7 136.6l-13 -6M245 134.4l-13 -6M248.4 132.8l-13 -6M251.7 131.8l-13 -6M254.8 131.4l-13 -6M257.9 131.7l-13 -6M260.7 132.6l-13 -6M263.2 134.2l-13 -6M265.3 136.3l-13 -6M267.1 139l-13 -6M268.5 142.1l-13 -6M269.4 145.7l-13 -6M269.8 149.7l-13 -6M269.8 153.9l-13 -6M269.3 158.3l-13 -6M268.3 162.8l-13 -6M266.9 167.3l-13 -6" stroke="#1a1a1a" stroke-width="1.2" fill="none"/>
<polygon points="264.2,171.2 265.3,172.6 264.5,174.2 262.8,173.9 262,175.3 262.9,177 262,178.5 260.5,177.9 259.6,179.2 260.2,181.1 259.2,182.5 257.8,181.5 256.9,182.7 257.3,184.9 256.2,186.1 255,184.8 253.9,185.9 254.1,188.2 252.9,189.2 252,187.6 250.9,188.5 250.7,191 249.5,191.8 248.8,190 247.7,190.7 247.3,193.2 246.1,193.9 245.6,191.7 244.5,192.2 243.8,194.8 242.6,195.2 242.4,192.9 241.3,193.2 240.4,195.8 239.3,196 239.4,193.5 238.3,193.6 237.1,196.1 236,196 236.4,193.5 235.4,193.3 234.1,195.7 233,195.4 233.7,192.8 232.8,192.5 231.2,194.7 230.3,194.2 231.2,191.6 230.4,191 228.7,193 227.9,192.2 229,189.7 228.3,188.9 226.6,190.7 225.9,189.7 227.2,187.3 226.7,186.4 224.8,187.8 224.3,186.7 225.8,184.4 225.4,183.3 223.5,184.5 223.1,183.2 224.8,181.1 224.5,179.9 222.6,180.7 222.5,179.2 224.2,177.4 224.1,176.1 222.3,176.5 222.3,175 224.1,173.4 224.2,172 222.4,172 222.6,170.4 224.5,169.2 224.7,167.7 223.1,167.4 223.4,165.8 225.3,164.9 225.7,163.4 224.2,162.7 224.7,161.1 226.5,160.6 227.1,159 225.7,158 226.4,156.4 228.2,156.2 228.8,154.8 227.7,153.4 228.5,151.8 230.2,152.1 231,150.7 230.1,149 231,147.5 232.5,148.1 233.4,146.8 232.8,144.9 233.8,143.5 235.2,144.5 236.1,143.3 235.7,141.1 236.8,139.9 238,141.2 239.1,140.1 238.9,137.8 240.1,136.8 241,138.4 242.1,137.5 242.3,135 243.5,134.2 244.2,136 245.3,135.3 245.7,132.8 246.9,132.1 247.4,134.3 248.5,133.8 249.2,131.2 250.4,130.8 250.6,133.1 251.7,132.8 252.6,130.2 253.7,130 253.6,132.5 254.7,132.4 255.9,129.9 257,130 256.6,132.5 257.6,132.7 258.9,130.3 260,130.6 259.3,133.2 260.2,133.5 261.8,131.3 262.7,131.8 261.8,134.4 262.6,135 264.3,133 265.1,133.8 264,136.3 264.7,137.1 266.4,135.3 267.1,136.3 265.8,138.7 266.3,139.6 268.2,138.2 268.7,139.3 267.2,141.6 267.6,142.7 269.5,141.5 269.9,142.8 268.2,144.9 268.5,146.1 270.4,145.3 270.5,146.8 268.8,148.6 268.9,149.9 270.7,149.5 270.7,151 268.9,152.6 268.8,154 270.6,154 270.4,155.6 268.5,156.8 268.3,158.3 269.9,158.6 269.6,160.2 267.7,161.1 267.3,162.6 268.8,163.3 268.3,164.9 266.5,165.4 265.9,167 267.3,168 266.6,169.6 264.8,169.8" fill="#fff" stroke="#1a1a1a" stroke-width="1.1" stroke-linejoin="round"/>
<ellipse cx="246.5" cy="163" rx="17.5" ry="30.3" fill="none" stroke="#1a1a1a" stroke-width="1.3" transform="rotate(25 246.5 163)"/>
<ellipse cx="246.8" cy="163.3" rx="15.8" ry="28.3" fill="none" stroke="#1a1a1a" stroke-width="0.8" transform="rotate(25 246.8 163.3)"/>
<path d="M-8.0 0Q0 -5.5 8.0 0Q0 5.5 -8.0 0Z" transform="translate(249.5 140.8) rotate(-20)" fill="#fff" stroke="#1a1a1a" stroke-width="1.1"/>
<path d="M-10.0 0Q0 -6.0 10.0 0Q0 6.0 -10.0 0Z" transform="translate(257 155) rotate(112)" fill="#fff" stroke="#1a1a1a" stroke-width="1.1"/>
<path d="M-10.0 0Q0 -6.0 10.0 0Q0 6.0 -10.0 0Z" transform="translate(241 178.5) rotate(-30)" fill="#fff" stroke="#1a1a1a" stroke-width="1.1"/>
<path d="M-8.0 0Q0 -5.0 8.0 0Q0 5.0 -8.0 0Z" transform="translate(228.5 174.5) rotate(82)" fill="#fff" stroke="#1a1a1a" stroke-width="1.1"/>
<ellipse cx="241" cy="161" rx="8" ry="10.5" fill="#fff" stroke="#1a1a1a" stroke-width="1.1" transform="rotate(25 241 161)"/>
<ellipse cx="241" cy="161" rx="6" ry="8.3" fill="#fff" stroke="#1a1a1a" stroke-width="0.8" transform="rotate(25 241 161)"/>
<path d="M237 157q4 -3 6 1t-2 6q-4 1 -5 -3" fill="none" stroke="#1a1a1a" stroke-width="1"/>
<ellipse cx="240.3" cy="160.3" rx="1.8" ry="2.6" fill="#fff" stroke="#1a1a1a" stroke-width="0.9" transform="rotate(25 240.3 160.3)"/>
<rect x="327.6" y="180.8" width="3" height="7" rx="1" fill="#fff" stroke="#1a1a1a" stroke-width="0.9"/>
<g transform="translate(237 203) rotate(25)"><rect x="0" y="-1.6" width="9" height="3.2" rx="1.2" fill="#fff" stroke="#1a1a1a" stroke-width="0.9"/></g>
<ellipse cx="569.2" cy="333" rx="2.6" ry="2" fill="#fff" stroke="#1a1a1a" stroke-width="1.4" transform="rotate(25 569.2 333)"/>
<ellipse cx="511.4" cy="357.5" rx="2.6" ry="2" fill="#fff" stroke="#1a1a1a" stroke-width="1.4" transform="rotate(25 511.4 357.5)"/>
<polygon points="243.8,222.3 243.9,221 244.2,219.5 244.6,217.9 245.3,216.4 246.1,214.8 247,213.3 248,212 249,210.7 250.1,209.7 251.2,208.9 252.2,208.3 253.2,208 254.1,208 254.8,208.2 260.1,211.2 260.7,211.7 261.2,212.4 261.4,213.4 261.5,214.6 261.4,216 261.1,217.4 260.6,219 260,220.6 259.2,222.1 258.3,223.6 257.3,225 256.3,226.2 255.2,227.2 254.1,228 253.1,228.6 252.1,228.9 251.2,228.9 250.4,228.7 245.2,225.8 244.6,225.2 244.1,224.5 243.8,223.5" fill="#fff" stroke="#1a1a1a" stroke-width="1" stroke-linejoin="round"/><polygon points="250.4,228.7 251.2,228.9 252.1,228.9 253.1,228.6 254.1,228 255.2,227.2 256.3,226.2 257.3,225 258.3,223.6 259.2,222.1 260,220.6 260.6,219 261.1,217.4 261.4,216 261.5,214.6 261.5,213.4 261.2,212.4 260.7,211.7 260.1,211.2 259.4,210.9 258.5,211 257.5,211.3 256.5,211.8 255.4,212.6 254.3,213.7 253.2,214.9 252.3,216.3 251.4,217.7 250.6,219.3 249.9,220.9 249.5,222.4 249.2,223.9 249,225.2 249.1,226.4 249.4,227.4 249.8,228.2" fill="#fff" stroke="#1a1a1a" stroke-width="0.9" stroke-linejoin="round"/><polygon points="250.3,224.2 250.4,223.1 250.6,221.9 251,220.7 251.5,219.4 252.1,218.2 252.9,217 253.7,215.9 254.5,214.9 255.4,214.1 256.2,213.4 257.1,213 257.9,212.8 258.6,212.7 259.2,212.9 260.9,213.9 261.4,214.3 261.8,214.9 262,215.7 262,216.7 261.9,217.7 261.7,218.9 261.3,220.2 260.8,221.4 260.2,222.6 259.5,223.8 258.7,224.9 257.8,225.9 257,226.7 256.1,227.4 255.3,227.8 254.5,228.1 253.8,228.1 253.2,227.9 251.4,226.9 250.9,226.5 250.6,225.9 250.4,225.1" fill="#fff" stroke="#1a1a1a" stroke-width="1" stroke-linejoin="round"/><polygon points="253.2,227.9 253.8,228.1 254.5,228.1 255.3,227.8 256.1,227.4 257,226.7 257.8,225.9 258.7,224.9 259.5,223.8 260.2,222.6 260.8,221.4 261.3,220.1 261.7,218.9 262,217.7 262,216.7 262,215.7 261.8,214.9 261.4,214.3 260.9,213.9 260.3,213.7 259.6,213.7 258.8,214 258,214.4 257.1,215.1 256.3,215.9 255.4,216.9 254.6,218 253.9,219.2 253.3,220.4 252.8,221.7 252.4,222.9 252.1,224.1 252.1,225.1 252.1,226.1 252.3,226.9 252.7,227.5" fill="#fff" stroke="#1a1a1a" stroke-width="0.9" stroke-linejoin="round"/><polygon points="250.8,226.2 250.9,224.9 251.2,223.4 251.7,221.8 252.3,220.3 253.1,218.7 254,217.2 255,215.9 256.1,214.6 257.1,213.6 258.2,212.8 259.3,212.2 260.2,211.9 261.1,211.9 261.9,212.2 266.3,214.6 266.9,215.1 267.4,215.9 267.6,216.8 267.7,218 267.6,219.4 267.3,220.8 266.8,222.4 266.2,224 265.4,225.5 264.5,227 263.5,228.4 262.4,229.6 261.4,230.6 260.3,231.4 259.2,232 258.3,232.3 257.4,232.3 256.6,232.1 252.2,229.7 251.6,229.1 251.2,228.4 250.9,227.4" fill="#fff" stroke="#1a1a1a" stroke-width="1" stroke-linejoin="round"/><polygon points="256.6,232.1 257.4,232.3 258.3,232.3 259.2,232 260.3,231.4 261.4,230.6 262.4,229.6 263.5,228.4 264.5,227 265.4,225.5 266.2,224 266.8,222.4 267.3,220.9 267.6,219.4 267.7,218 267.6,216.9 267.4,215.9 266.9,215.1 266.3,214.6 265.5,214.3 264.7,214.4 263.7,214.7 262.6,215.2 261.6,216 260.5,217.1 259.4,218.3 258.4,219.7 257.5,221.2 256.7,222.7 256.1,224.3 255.6,225.8 255.3,227.3 255.2,228.6 255.3,229.8 255.6,230.8 256,231.6" fill="#fff" stroke="#1a1a1a" stroke-width="0.9" stroke-linejoin="round"/><polygon points="257.7,226.5 257.8,225.7 258,224.8 258.2,223.9 258.6,223 259.1,222 259.6,221.1 260.2,220.3 260.9,219.6 261.5,219 262.2,218.5 262.8,218.1 263.4,218 263.9,217.9 264.4,218.1 271.4,222 271.8,222.3 272.1,222.8 272.2,223.3 272.2,224.1 272.2,224.9 272,225.8 271.7,226.7 271.3,227.6 270.9,228.6 270.3,229.4 269.7,230.3 269.1,231 268.4,231.6 267.8,232.1 267.2,232.4 266.6,232.6 266.1,232.6 265.6,232.5 258.6,228.6 258.2,228.3 257.9,227.8 257.8,227.2" fill="#fff" stroke="#1a1a1a" stroke-width="1" stroke-linejoin="round"/><polygon points="265.6,232.5 266.1,232.6 266.6,232.6 267.2,232.4 267.8,232.1 268.5,231.6 269.1,231 269.7,230.3 270.3,229.4 270.9,228.5 271.3,227.6 271.7,226.7 272,225.7 272.2,224.9 272.3,224.1 272.2,223.3 272,222.8 271.8,222.3 271.4,222 271,221.8 270.4,221.9 269.8,222 269.2,222.4 268.6,222.9 267.9,223.5 267.3,224.2 266.7,225 266.1,225.9 265.7,226.9 265.3,227.8 265,228.7 264.8,229.6 264.8,230.4 264.8,231.1 265,231.7 265.2,232.2" fill="#fff" stroke="#1a1a1a" stroke-width="0.9" stroke-linejoin="round"/><polygon points="265.1,230.2 265.1,229.4 265.3,228.6 265.6,227.8 265.9,226.9 266.3,226 266.8,225.2 267.4,224.5 268,223.8 268.6,223.2 269.2,222.8 269.7,222.5 270.3,222.3 270.8,222.3 271.2,222.4 281.8,228.3 282.1,228.6 282.3,229 282.5,229.5 282.5,230.2 282.5,230.9 282.3,231.7 282,232.6 281.7,233.4 281.2,234.3 280.8,235.1 280.2,235.9 279.6,236.5 279,237.1 278.4,237.6 277.9,237.9 277.3,238 276.8,238 276.4,237.9 265.9,232.1 265.5,231.8 265.3,231.3 265.1,230.8" fill="#fff" stroke="#1a1a1a" stroke-width="1" stroke-linejoin="round"/><polygon points="276.4,237.9 276.8,238 277.3,238 277.9,237.9 278.4,237.6 279,237.1 279.6,236.5 280.2,235.9 280.8,235.1 281.3,234.3 281.7,233.4 282,232.6 282.3,231.7 282.5,230.9 282.5,230.2 282.5,229.5 282.3,229 282.1,228.6 281.7,228.3 281.3,228.1 280.8,228.2 280.3,228.3 279.7,228.6 279.1,229.1 278.5,229.7 278,230.3 277.4,231.1 276.9,231.9 276.5,232.7 276.1,233.6 275.9,234.5 275.7,235.3 275.7,236 275.7,236.7 275.8,237.2 276.1,237.6" fill="#fff" stroke="#1a1a1a" stroke-width="0.9" stroke-linejoin="round"/><polygon points="272.5,238.7 272.6,237.2 273,235.7 273.5,234.1 274.1,232.4 274.9,230.8 275.9,229.2 276.9,227.8 278,226.3 279.2,224.7 280.6,222.9 282.2,221.1 283.9,219.5 285.7,218.6 287.1,218.7 294.1,222.6 294.9,223.7 295.1,225.7 294.7,228 294,230.3 293.2,232.4 292.5,234.3 291.8,236 291.1,237.7 290.3,239.3 289.3,240.8 288.3,242.3 287.2,243.6 286,244.7 284.9,245.5 283.8,246.1 282.8,246.4 281.9,246.4 281.1,246.2 274,242.3 273.4,241.7 272.9,240.9 272.6,239.9" fill="#fff" stroke="#1a1a1a" stroke-width="1" stroke-linejoin="round"/><polygon points="281.1,246.2 281.9,246.4 282.8,246.4 283.8,246.1 284.9,245.5 286,244.7 287.2,243.6 288.3,242.3 289.3,240.8 290.3,239.3 291.1,237.7 291.8,236 292.5,234.3 293.2,232.4 294,230.3 294.7,228 295.1,225.6 294.9,223.7 294.1,222.6 292.7,222.5 291,223.4 289.2,225 287.6,226.8 286.2,228.6 285.1,230.2 284,231.7 282.9,233.1 282,234.7 281.2,236.3 280.5,238 280,239.6 279.7,241.1 279.6,242.6 279.7,243.8 279.9,244.8 280.4,245.6" fill="#fff" stroke="#1a1a1a" stroke-width="0.9" stroke-linejoin="round"/><polygon points="282.7,239.9 282.8,239.2 282.9,238.4 283.2,237.5 283.5,236.7 284,235.8 284.5,235 285,234.2 285.6,233.6 286.2,233 286.8,232.5 287.4,232.2 287.9,232.1 288.4,232.1 288.8,232.2 291.4,233.7 291.8,233.9 292,234.3 292.2,234.9 292.2,235.5 292.1,236.3 292,237.1 291.7,237.9 291.4,238.8 290.9,239.7 290.4,240.5 289.9,241.2 289.3,241.9 288.7,242.5 288.1,242.9 287.6,243.2 287,243.4 286.5,243.4 286.1,243.3 283.5,241.8 283.1,241.5 282.9,241.1 282.8,240.6" fill="#fff" stroke="#1a1a1a" stroke-width="1" stroke-linejoin="round"/><polygon points="286.1,243.3 286.5,243.4 287,243.4 287.6,243.2 288.1,242.9 288.7,242.5 289.3,241.9 289.9,241.2 290.5,240.5 290.9,239.7 291.4,238.8 291.7,237.9 292,237.1 292.2,236.3 292.2,235.5 292.2,234.9 292,234.3 291.8,233.9 291.4,233.6 291,233.5 290.5,233.5 290,233.7 289.4,234 288.8,234.4 288.2,235 287.7,235.7 287.1,236.4 286.6,237.3 286.2,238.1 285.8,239 285.6,239.8 285.4,240.6 285.4,241.4 285.4,242 285.5,242.6 285.8,243" fill="#fff" stroke="#1a1a1a" stroke-width="0.9" stroke-linejoin="round"/><polygon points="278.7,245 279.2,242.5 280.4,239.9 282,237.6 283.6,235.6 285.2,234.1 286.5,232.9 287.7,231.8 288.9,230.8 290,229.9 291.1,229.4 292.1,229 293.1,229 293.9,229.3 300.9,233.2 301.6,233.7 302,234.5 302.3,235.6 302.4,236.8 302.3,238.2 302,239.8 301.5,241.4 300.8,243 300,244.7 299,246.2 298,247.7 296.9,248.9 295.7,250 294.6,250.9 293.5,251.5 292.5,251.8 291.5,252 290.4,252.2 289.2,252.3 288,252.3 286.8,251.9 279.7,248 278.9,246.8" fill="#fff" stroke="#1a1a1a" stroke-width="1" stroke-linejoin="round"/><polygon points="290.4,252.2 291.5,252 292.5,251.8 293.5,251.5 294.6,250.9 295.7,250 296.9,248.9 298,247.7 299,246.2 300,244.6 300.8,243 301.5,241.4 302,239.7 302.3,238.2 302.4,236.8 302.3,235.5 302,234.5 301.6,233.7 300.9,233.2 300.1,232.9 299.2,232.9 298.2,233.3 297.1,233.9 295.9,234.7 294.8,235.7 293.6,236.8 292.2,238 290.7,239.5 289,241.5 287.5,243.8 286.3,246.4 285.8,248.9 286,250.8 286.8,251.9 288,252.3 289.2,252.3" fill="#fff" stroke="#1a1a1a" stroke-width="0.9" stroke-linejoin="round"/><polygon points="292.4,245.3 292.5,244.5 292.6,243.7 292.9,242.9 293.2,242 293.7,241.2 294.2,240.3 294.7,239.6 295.3,238.9 295.9,238.3 296.5,237.9 297.1,237.6 297.6,237.4 298.1,237.4 298.5,237.6 308.2,242.9 308.5,243.2 308.8,243.6 308.9,244.2 309,244.8 308.9,245.6 308.7,246.4 308.5,247.2 308.1,248.1 307.7,248.9 307.2,249.7 306.6,250.5 306.1,251.2 305.5,251.7 304.9,252.2 304.3,252.5 303.8,252.7 303.3,252.7 302.9,252.5 293.2,247.2 292.8,246.9 292.6,246.5 292.4,245.9" fill="#fff" stroke="#1a1a1a" stroke-width="1" stroke-linejoin="round"/><polygon points="302.9,252.5 303.3,252.7 303.8,252.7 304.3,252.5 304.9,252.2 305.5,251.7 306.1,251.2 306.7,250.5 307.2,249.7 307.7,248.9 308.1,248.1 308.5,247.2 308.7,246.4 308.9,245.5 309,244.8 308.9,244.2 308.8,243.6 308.5,243.2 308.2,242.9 307.8,242.8 307.3,242.8 306.8,243 306.2,243.3 305.6,243.7 305,244.3 304.4,245 303.9,245.7 303.4,246.5 302.9,247.4 302.6,248.2 302.3,249.1 302.2,249.9 302.1,250.6 302.1,251.3 302.3,251.8 302.5,252.3" fill="#fff" stroke="#1a1a1a" stroke-width="0.9" stroke-linejoin="round"/><polygon points="299.9,252.5 300,251.3 300.3,250 300.7,248.6 301.3,247.2 302,245.8 302.8,244.4 303.7,243.2 304.6,242.1 305.6,241.2 306.6,240.4 307.5,239.9 308.4,239.7 309.2,239.6 309.9,239.8 316.1,243.3 316.6,243.7 317,244.4 317.2,245.3 317.3,246.4 317.2,247.6 316.9,248.9 316.5,250.3 315.9,251.7 315.2,253.1 314.4,254.4 313.5,255.7 312.6,256.8 311.6,257.7 310.6,258.4 309.7,258.9 308.8,259.2 308,259.2 307.3,259 301.2,255.6 300.6,255.1 300.2,254.4 300,253.6" fill="#fff" stroke="#1a1a1a" stroke-width="1" stroke-linejoin="round"/><polygon points="307.3,259 308,259.2 308.8,259.2 309.7,258.9 310.6,258.4 311.6,257.7 312.6,256.8 313.5,255.7 314.4,254.4 315.2,253.1 315.9,251.7 316.5,250.3 316.9,248.9 317.2,247.6 317.3,246.4 317.2,245.3 317,244.4 316.6,243.7 316.1,243.3 315.4,243 314.6,243.1 313.7,243.3 312.8,243.8 311.8,244.6 310.8,245.5 309.9,246.6 309,247.8 308.2,249.2 307.5,250.6 306.9,252 306.5,253.4 306.2,254.7 306.1,255.9 306.2,257 306.4,257.9 306.8,258.6" fill="#fff" stroke="#1a1a1a" stroke-width="0.9" stroke-linejoin="round"/><polygon points="307.3,254.8 307.4,253.9 307.6,252.9 307.9,251.8 308.4,250.7 308.9,249.6 309.6,248.6 310.3,247.6 311,246.8 311.8,246 312.5,245.5 313.3,245.1 313.9,244.9 314.6,244.8 315.1,245 316.4,245.8 316.8,246.1 317.1,246.6 317.3,247.3 317.4,248.2 317.3,249.1 317.1,250.1 316.8,251.2 316.3,252.3 315.8,253.4 315.1,254.4 314.4,255.4 313.7,256.2 313,257 312.2,257.5 311.5,257.9 310.8,258.1 310.2,258.2 309.6,258 308.3,257.3 307.9,256.9 307.6,256.4 307.4,255.7" fill="#fff" stroke="#1a1a1a" stroke-width="1" stroke-linejoin="round"/><polygon points="309.6,258 310.2,258.2 310.8,258.1 311.5,257.9 312.2,257.5 313,257 313.7,256.3 314.5,255.4 315.1,254.4 315.8,253.4 316.3,252.3 316.8,251.2 317.1,250.1 317.3,249.1 317.4,248.2 317.3,247.3 317.1,246.6 316.8,246.1 316.4,245.7 315.9,245.6 315.3,245.6 314.6,245.8 313.8,246.2 313.1,246.8 312.3,247.5 311.6,248.3 310.9,249.3 310.3,250.3 309.7,251.4 309.3,252.5 308.9,253.6 308.7,254.6 308.7,255.6 308.7,256.4 308.9,257.1 309.2,257.6" fill="#fff" stroke="#1a1a1a" stroke-width="0.9" stroke-linejoin="round"/><polygon points="307.4,256.6 307.5,255.4 307.8,254.1 308.2,252.7 308.8,251.3 309.5,249.9 310.3,248.6 311.2,247.3 312.1,246.2 313.1,245.3 314.1,244.6 315,244.1 315.9,243.8 316.7,243.8 317.4,244 320,245.5 320.6,245.9 321,246.6 321.2,247.5 321.3,248.6 321.2,249.8 320.9,251.1 320.5,252.5 319.9,253.9 319.2,255.3 318.4,256.6 317.5,257.9 316.6,259 315.6,259.9 314.6,260.6 313.7,261.1 312.8,261.4 312,261.4 311.3,261.2 308.7,259.8 308.1,259.3 307.7,258.6 307.5,257.7" fill="#fff" stroke="#1a1a1a" stroke-width="1" stroke-linejoin="round"/><polygon points="311.3,261.2 312,261.4 312.8,261.4 313.7,261.1 314.6,260.6 315.6,259.9 316.6,259 317.5,257.9 318.4,256.6 319.2,255.3 319.9,253.9 320.5,252.5 320.9,251.1 321.2,249.8 321.3,248.6 321.2,247.5 321,246.6 320.6,245.9 320,245.5 319.3,245.2 318.5,245.3 317.7,245.5 316.7,246 315.8,246.8 314.8,247.7 313.8,248.8 312.9,250 312.1,251.4 311.4,252.8 310.8,254.2 310.4,255.6 310.2,256.9 310.1,258.1 310.1,259.2 310.4,260.1 310.8,260.7" fill="#fff" stroke="#1a1a1a" stroke-width="0.9" stroke-linejoin="round"/><polygon points="312.2,256.2 312.3,255.5 312.5,254.7 312.7,253.8 313.1,253 313.5,252.1 314,251.3 314.5,250.6 315.1,249.9 315.7,249.3 316.3,248.9 316.9,248.6 317.4,248.4 317.9,248.4 318.3,248.5 328.9,254.4 329.2,254.7 329.5,255.1 329.6,255.6 329.7,256.3 329.6,257 329.4,257.8 329.2,258.7 328.8,259.5 328.4,260.4 327.9,261.2 327.4,262 326.8,262.6 326.2,263.2 325.6,263.6 325,263.9 324.5,264.1 324,264.1 323.6,264 313,258.1 312.7,257.9 312.4,257.4 312.3,256.9" fill="#fff" stroke="#1a1a1a" stroke-width="1" stroke-linejoin="round"/><polygon points="323.6,264 324,264.1 324.5,264.1 325,264 325.6,263.6 326.2,263.2 326.8,262.6 327.4,262 327.9,261.2 328.4,260.4 328.8,259.5 329.2,258.7 329.5,257.8 329.6,257 329.7,256.3 329.6,255.6 329.5,255.1 329.2,254.7 328.9,254.4 328.5,254.2 328,254.3 327.5,254.4 326.9,254.7 326.3,255.2 325.7,255.7 325.1,256.4 324.6,257.2 324.1,258 323.6,258.8 323.3,259.7 323,260.6 322.9,261.4 322.8,262.1 322.9,262.8 323,263.3 323.2,263.7" fill="#fff" stroke="#1a1a1a" stroke-width="0.9" stroke-linejoin="round"/><polygon points="319.7,264.8 319.8,263.3 320.1,261.8 320.5,260.2 321,258.5 321.6,256.6 322.3,254.4 323.3,252 324.7,249.4 326.4,247.3 328.2,245.8 329.8,245.4 331,246 338,249.9 338.8,251 339.2,252.4 339.4,253.8 339.6,255.1 339.8,256.2 339.9,257.5 339.7,258.9 339.4,260.5 338.9,262.1 338.2,263.7 337.4,265.4 336.5,266.9 335.4,268.4 334.3,269.7 333.2,270.8 332.1,271.6 331,272.2 329.9,272.5 329,272.5 328.2,272.3 321.2,268.4 320.5,267.8 320.1,267 319.8,266" fill="#fff" stroke="#1a1a1a" stroke-width="1" stroke-linejoin="round"/><polygon points="328.2,272.3 329,272.5 329.9,272.5 331,272.2 332.1,271.6 333.2,270.7 334.3,269.7 335.4,268.4 336.5,266.9 337.4,265.4 338.2,263.7 338.9,262.1 339.4,260.5 339.7,258.9 339.8,257.5 339.8,256.2 339.6,255.1 339.4,253.8 339.2,252.4 338.8,251 338,249.9 336.8,249.3 335.2,249.8 333.5,251.2 331.8,253.3 330.4,255.9 329.3,258.3 328.6,260.5 328.1,262.4 327.6,264.1 327.2,265.7 326.9,267.2 326.7,268.7 326.8,269.9 327.1,270.9 327.6,271.7" fill="#fff" stroke="#1a1a1a" stroke-width="0.9" stroke-linejoin="round"/><polygon points="329.9,266 329.9,265.3 330.1,264.5 330.4,263.6 330.7,262.7 331.1,261.9 331.6,261.1 332.2,260.3 332.8,259.6 333.4,259.1 333.9,258.6 334.5,258.3 335.1,258.2 335.5,258.1 336,258.3 338.6,259.7 338.9,260 339.2,260.4 339.3,261 339.4,261.6 339.3,262.4 339.1,263.2 338.9,264 338.5,264.9 338.1,265.8 337.6,266.6 337.1,267.3 336.5,268 335.9,268.6 335.3,269 334.7,269.3 334.2,269.5 333.7,269.5 333.3,269.4 330.6,267.9 330.3,267.6 330.1,267.2 329.9,266.7" fill="#fff" stroke="#1a1a1a" stroke-width="1" stroke-linejoin="round"/><polygon points="333.3,269.4 333.7,269.5 334.2,269.5 334.7,269.3 335.3,269 335.9,268.6 336.5,268 337.1,267.3 337.6,266.6 338.1,265.7 338.5,264.9 338.9,264 339.1,263.2 339.3,262.4 339.4,261.6 339.3,261 339.2,260.4 338.9,260 338.6,259.7 338.2,259.6 337.7,259.6 337.2,259.8 336.6,260.1 336,260.5 335.4,261.1 334.8,261.8 334.3,262.5 333.8,263.4 333.3,264.2 333,265.1 332.7,265.9 332.6,266.7 332.5,267.5 332.6,268.1 332.7,268.7 332.9,269.1" fill="#fff" stroke="#1a1a1a" stroke-width="0.9" stroke-linejoin="round"/><polygon points="326.4,276.6 326.6,274.4 327.2,271.9 328.2,269.5 329.2,267.4 330.1,265.6 330.9,263.9 331.8,262.3 332.8,260.7 333.8,259.3 334.9,258 336,256.9 337.2,256 338.3,255.4 339.3,255.1 340.2,255.1 341,255.4 348.1,259.3 348.7,259.8 349.2,260.6 349.5,261.6 349.5,262.9 349.4,264.3 349.1,265.8 348.6,267.5 347.9,269.1 347.1,270.7 346.2,272.3 345.1,273.8 344,275.1 342.9,276.4 341.6,277.8 340.2,279.3 338.6,280.8 336.8,282.1 335.2,282.6 334,282.1 326.9,278.1" fill="#fff" stroke="#1a1a1a" stroke-width="1" stroke-linejoin="round"/><polygon points="335.2,282.5 336.8,282.1 338.6,280.8 340.2,279.3 341.6,277.8 342.9,276.4 344,275.1 345.1,273.7 346.2,272.3 347.1,270.7 347.9,269.1 348.6,267.5 349.1,265.8 349.4,264.3 349.5,262.9 349.5,261.6 349.2,260.6 348.7,259.8 348.1,259.3 347.3,259 346.4,259 345.3,259.4 344.2,259.9 343.1,260.8 342,261.9 340.8,263.2 339.8,264.6 338.9,266.2 338,267.8 337.2,269.5 336.2,271.3 335.3,273.4 334.3,275.8 333.6,278.3 333.5,280.5 334,282" fill="#fff" stroke="#1a1a1a" stroke-width="0.9" stroke-linejoin="round"/><polygon points="339.6,271.4 339.6,270.6 339.8,269.8 340.1,269 340.4,268.1 340.8,267.2 341.3,266.4 341.9,265.7 342.4,265 343,264.4 343.6,264 344.2,263.7 344.8,263.5 345.2,263.5 345.6,263.6 355.4,269 355.7,269.3 355.9,269.7 356.1,270.2 356.1,270.9 356.1,271.6 355.9,272.4 355.6,273.3 355.3,274.2 354.9,275 354.4,275.8 353.8,276.6 353.2,277.3 352.6,277.8 352,278.3 351.5,278.6 350.9,278.8 350.4,278.8 350,278.6 340.3,273.3 340,273 339.8,272.6 339.6,272" fill="#fff" stroke="#1a1a1a" stroke-width="1" stroke-linejoin="round"/><polygon points="350,278.6 350.4,278.8 350.9,278.7 351.5,278.6 352,278.3 352.6,277.8 353.2,277.3 353.8,276.6 354.4,275.8 354.9,275 355.3,274.2 355.6,273.3 355.9,272.4 356.1,271.6 356.1,270.9 356.1,270.2 355.9,269.7 355.7,269.3 355.3,269 354.9,268.9 354.4,268.9 353.9,269 353.3,269.4 352.7,269.8 352.1,270.4 351.6,271 351,271.8 350.5,272.6 350.1,273.5 349.7,274.3 349.5,275.2 349.3,276 349.3,276.7 349.3,277.4 349.4,277.9 349.7,278.3" fill="#fff" stroke="#1a1a1a" stroke-width="0.9" stroke-linejoin="round"/><polygon points="347.1,278.6 347.2,277.4 347.4,276.1 347.9,274.7 348.4,273.2 349.1,271.9 349.9,270.5 350.9,269.3 351.8,268.2 352.8,267.2 353.8,266.5 354.7,266 355.6,265.8 356.4,265.7 357,265.9 363.2,269.4 363.8,269.8 364.2,270.5 364.4,271.4 364.5,272.5 364.4,273.7 364.1,275 363.7,276.4 363.1,277.8 362.4,279.2 361.6,280.5 360.7,281.8 359.8,282.9 358.8,283.8 357.8,284.5 356.9,285 356,285.3 355.2,285.3 354.5,285.1 348.3,281.7 347.8,281.2 347.4,280.6 347.1,279.7" fill="#fff" stroke="#1a1a1a" stroke-width="1" stroke-linejoin="round"/><polygon points="354.5,285.1 355.2,285.3 356,285.3 356.9,285 357.8,284.5 358.8,283.8 359.7,282.9 360.7,281.8 361.6,280.5 362.4,279.2 363.1,277.8 363.7,276.4 364.1,275 364.4,273.7 364.5,272.5 364.4,271.4 364.2,270.5 363.8,269.8 363.2,269.4 362.5,269.1 361.7,269.2 360.9,269.4 359.9,269.9 358.9,270.7 358,271.6 357,272.7 356.1,273.9 355.3,275.3 354.6,276.7 354,278.1 353.6,279.5 353.3,280.8 353.2,282 353.3,283.1 353.6,284 354,284.6" fill="#fff" stroke="#1a1a1a" stroke-width="0.9" stroke-linejoin="round"/><polygon points="354.5,280.9 354.6,280 354.8,279 355.1,277.9 355.6,276.8 356.1,275.7 356.7,274.7 357.4,273.7 358.2,272.9 358.9,272.1 359.7,271.6 360.4,271.2 361.1,270.9 361.7,270.9 362.2,271.1 363.6,271.8 364,272.2 364.3,272.7 364.5,273.4 364.6,274.2 364.5,275.2 364.3,276.2 363.9,277.3 363.5,278.4 362.9,279.5 362.3,280.5 361.6,281.5 360.9,282.4 360.1,283.1 359.4,283.6 358.6,284 357.9,284.2 357.3,284.3 356.8,284.1 355.5,283.4 355,283 354.7,282.5 354.5,281.8" fill="#fff" stroke="#1a1a1a" stroke-width="1" stroke-linejoin="round"/><polygon points="356.8,284.1 357.3,284.3 357.9,284.2 358.6,284 359.4,283.6 360.1,283.1 360.9,282.3 361.6,281.5 362.3,280.5 362.9,279.5 363.5,278.4 363.9,277.3 364.3,276.2 364.5,275.2 364.5,274.3 364.5,273.4 364.3,272.7 364,272.2 363.6,271.8 363,271.7 362.4,271.7 361.7,271.9 361,272.3 360.2,272.9 359.5,273.6 358.7,274.4 358.1,275.4 357.4,276.4 356.9,277.5 356.4,278.6 356.1,279.7 355.9,280.7 355.8,281.7 355.9,282.5 356.1,283.2 356.4,283.7" fill="#fff" stroke="#1a1a1a" stroke-width="0.9" stroke-linejoin="round"/><polygon points="354.6,282.7 354.7,281.5 354.9,280.2 355.4,278.8 355.9,277.4 356.6,276 357.4,274.7 358.3,273.4 359.3,272.3 360.3,271.4 361.2,270.7 362.2,270.2 363.1,269.9 363.9,269.9 364.5,270.1 367.2,271.6 367.7,272 368.1,272.7 368.4,273.6 368.4,274.6 368.3,275.9 368.1,277.2 367.6,278.6 367.1,280 366.4,281.4 365.6,282.7 364.7,284 363.7,285.1 362.7,286 361.8,286.7 360.8,287.2 359.9,287.5 359.1,287.5 358.5,287.3 355.8,285.8 355.3,285.4 354.9,284.7 354.6,283.8" fill="#fff" stroke="#1a1a1a" stroke-width="1" stroke-linejoin="round"/><polygon points="358.5,287.3 359.1,287.5 359.9,287.5 360.8,287.2 361.8,286.7 362.7,286 363.7,285.1 364.7,284 365.6,282.7 366.4,281.4 367.1,280 367.6,278.6 368.1,277.2 368.3,275.9 368.4,274.7 368.4,273.6 368.1,272.7 367.7,272 367.2,271.6 366.5,271.3 365.7,271.4 364.8,271.6 363.9,272.1 362.9,272.9 361.9,273.8 361,274.9 360.1,276.1 359.3,277.5 358.6,278.9 358,280.3 357.6,281.7 357.3,283 357.2,284.2 357.3,285.3 357.5,286.2 357.9,286.8" fill="#fff" stroke="#1a1a1a" stroke-width="0.9" stroke-linejoin="round"/><polygon points="359.4,282.3 359.4,281.6 359.6,280.8 359.9,279.9 360.2,279.1 360.7,278.2 361.1,277.4 361.7,276.6 362.3,276 362.9,275.4 363.5,275 364.1,274.7 364.6,274.5 365.1,274.5 365.5,274.6 376.1,280.5 376.4,280.8 376.6,281.2 376.8,281.7 376.8,282.4 376.8,283.1 376.6,283.9 376.4,284.8 376,285.6 375.6,286.5 375.1,287.3 374.5,288.1 373.9,288.7 373.4,289.3 372.8,289.7 372.2,290 371.6,290.2 371.1,290.2 370.7,290.1 360.2,284.2 359.8,284 359.6,283.5 359.4,283" fill="#fff" stroke="#1a1a1a" stroke-width="1" stroke-linejoin="round"/><polygon points="370.7,290.1 371.2,290.2 371.6,290.2 372.2,290 372.8,289.7 373.3,289.3 373.9,288.7 374.5,288 375.1,287.3 375.6,286.5 376,285.6 376.3,284.8 376.6,283.9 376.8,283.1 376.8,282.4 376.8,281.7 376.6,281.2 376.4,280.7 376.1,280.5 375.6,280.3 375.2,280.3 374.6,280.5 374,280.8 373.5,281.3 372.9,281.8 372.3,282.5 371.7,283.3 371.2,284.1 370.8,284.9 370.5,285.8 370.2,286.6 370,287.5 370,288.2 370,288.8 370.2,289.4 370.4,289.8" fill="#fff" stroke="#1a1a1a" stroke-width="0.9" stroke-linejoin="round"/><polygon points="366.9,290.8 367,289.4 367.3,287.9 367.8,286.3 368.4,284.6 369.3,283 370.2,281.4 371.2,279.9 372.3,278.5 373.5,276.9 374.9,275.1 376.5,273.2 378.3,271.7 380,270.8 381.4,270.8 388.4,274.7 389.2,275.9 389.4,277.8 389,280.2 388.3,282.5 387.5,284.6 386.8,286.5 386.1,288.2 385.4,289.8 384.6,291.5 383.6,293 382.6,294.5 381.5,295.8 380.4,296.8 379.2,297.7 378.1,298.3 377.1,298.6 376.2,298.6 375.4,298.4 368.3,294.5 367.7,293.9 367.2,293.1 366.9,292.1" fill="#fff" stroke="#1a1a1a" stroke-width="1" stroke-linejoin="round"/><polygon points="375.4,298.4 376.2,298.6 377.1,298.6 378.1,298.3 379.2,297.7 380.4,296.8 381.5,295.8 382.6,294.5 383.6,293 384.6,291.5 385.4,289.8 386.1,288.2 386.8,286.5 387.5,284.6 388.3,282.5 389,280.2 389.4,277.8 389.3,275.9 388.4,274.7 387,274.7 385.3,275.6 383.5,277.2 381.9,279 380.6,280.8 379.4,282.4 378.3,283.8 377.3,285.3 376.3,286.9 375.5,288.5 374.8,290.2 374.3,291.8 374,293.3 373.9,294.7 374,296 374.3,297 374.7,297.8" fill="#fff" stroke="#1a1a1a" stroke-width="0.9" stroke-linejoin="round"/><polygon points="377,292.1 377.1,291.4 377.2,290.6 377.5,289.7 377.9,288.8 378.3,288 378.8,287.2 379.3,286.4 379.9,285.7 380.5,285.2 381.1,284.7 381.7,284.4 382.2,284.2 382.7,284.2 383.1,284.4 385.8,285.8 386.1,286.1 386.3,286.5 386.5,287.1 386.5,287.7 386.5,288.5 386.3,289.3 386,290.1 385.7,291 385.3,291.8 384.8,292.7 384.2,293.4 383.6,294.1 383,294.6 382.4,295.1 381.9,295.4 381.3,295.6 380.9,295.6 380.4,295.4 377.8,294 377.4,293.7 377.2,293.3 377.1,292.8" fill="#fff" stroke="#1a1a1a" stroke-width="1" stroke-linejoin="round"/><polygon points="380.4,295.5 380.8,295.6 381.3,295.6 381.9,295.4 382.4,295.1 383,294.7 383.6,294.1 384.2,293.4 384.8,292.7 385.3,291.8 385.7,291 386,290.1 386.3,289.3 386.5,288.5 386.5,287.7 386.5,287.1 386.3,286.5 386.1,286.1 385.8,285.8 385.3,285.7 384.9,285.7 384.3,285.9 383.7,286.2 383.1,286.6 382.6,287.2 382,287.9 381.4,288.6 380.9,289.4 380.5,290.3 380.2,291.2 379.9,292 379.7,292.8 379.7,293.6 379.7,294.2 379.9,294.8 380.1,295.2" fill="#fff" stroke="#1a1a1a" stroke-width="0.9" stroke-linejoin="round"/><polygon points="373,297.1 373.6,294.7 374.7,292.1 376.3,289.7 377.9,287.8 379.5,286.3 380.8,285.1 382,284 383.2,283 384.3,282.1 385.4,281.5 386.5,281.2 387.4,281.2 388.2,281.4 395.2,285.4 395.9,285.9 396.3,286.7 396.6,287.7 396.7,289 396.6,290.4 396.3,291.9 395.8,293.6 395.1,295.2 394.3,296.8 393.3,298.4 392.3,299.8 391.2,301.1 390.1,302.2 388.9,303.1 387.8,303.6 386.8,304 385.8,304.2 384.7,304.4 383.5,304.5 382.3,304.5 381.1,304.1 374.1,300.2 373.2,299" fill="#fff" stroke="#1a1a1a" stroke-width="1" stroke-linejoin="round"/><polygon points="384.7,304.4 385.8,304.2 386.8,304 387.8,303.6 388.9,303.1 390,302.2 391.2,301.1 392.3,299.8 393.3,298.4 394.3,296.8 395.1,295.2 395.8,293.6 396.3,291.9 396.6,290.4 396.7,289 396.6,287.7 396.3,286.7 395.9,285.9 395.2,285.4 394.4,285.1 393.5,285.1 392.5,285.4 391.4,286 390.2,286.9 389.1,287.9 387.9,289 386.5,290.2 385,291.7 383.3,293.6 381.8,296 380.6,298.6 380.1,301 380.3,302.9 381.1,304.1 382.3,304.5 383.5,304.5" fill="#fff" stroke="#1a1a1a" stroke-width="0.9" stroke-linejoin="round"/><polygon points="386.7,297.5 386.8,296.7 386.9,295.9 387.2,295.1 387.6,294.2 388,293.4 388.5,292.5 389,291.8 389.6,291.1 390.2,290.5 390.8,290.1 391.4,289.8 391.9,289.6 392.4,289.6 392.8,289.7 402.5,295.1 402.8,295.4 403.1,295.8 403.2,296.3 403.3,297 403.2,297.7 403.1,298.5 402.8,299.4 402.4,300.2 402,301.1 401.5,301.9 401,302.7 400.4,303.4 399.8,303.9 399.2,304.4 398.6,304.7 398.1,304.8 397.6,304.9 397.2,304.7 387.5,299.4 387.1,299.1 386.9,298.7 386.8,298.1" fill="#fff" stroke="#1a1a1a" stroke-width="1" stroke-linejoin="round"/><polygon points="397.2,304.7 397.6,304.9 398.1,304.8 398.6,304.7 399.2,304.4 399.8,303.9 400.4,303.4 401,302.7 401.5,301.9 402,301.1 402.4,300.3 402.8,299.4 403.1,298.5 403.2,297.7 403.3,297 403.2,296.3 403.1,295.8 402.8,295.4 402.5,295.1 402.1,295 401.6,295 401.1,295.1 400.5,295.5 399.9,295.9 399.3,296.5 398.7,297.1 398.2,297.9 397.7,298.7 397.2,299.6 396.9,300.4 396.6,301.3 396.5,302.1 396.4,302.8 396.5,303.5 396.6,304 396.8,304.4" fill="#fff" stroke="#1a1a1a" stroke-width="0.9" stroke-linejoin="round"/><polygon points="394.2,304.7 394.3,303.5 394.6,302.1 395,300.8 395.6,299.3 396.3,297.9 397.1,296.6 398,295.4 398.9,294.3 399.9,293.3 400.9,292.6 401.8,292.1 402.7,291.8 403.5,291.8 404.2,292 410.4,295.4 410.9,295.9 411.3,296.6 411.6,297.5 411.6,298.6 411.5,299.8 411.3,301.1 410.8,302.5 410.3,303.9 409.6,305.3 408.8,306.6 407.9,307.9 406.9,309 405.9,309.9 404.9,310.6 404,311.1 403.1,311.4 402.3,311.4 401.7,311.2 395.5,307.8 394.9,307.3 394.5,306.6 394.3,305.8" fill="#fff" stroke="#1a1a1a" stroke-width="1" stroke-linejoin="round"/><polygon points="401.7,311.2 402.3,311.4 403.1,311.4 404,311.1 405,310.6 405.9,309.9 406.9,309 407.9,307.9 408.7,306.6 409.6,305.3 410.3,303.9 410.8,302.5 411.3,301.1 411.5,299.8 411.6,298.5 411.6,297.5 411.3,296.6 410.9,295.9 410.4,295.4 409.7,295.2 408.9,295.3 408,295.5 407.1,296 406.1,296.8 405.1,297.7 404.2,298.8 403.3,300 402.5,301.4 401.8,302.8 401.2,304.2 400.8,305.6 400.5,306.9 400.4,308.1 400.5,309.2 400.7,310.1 401.1,310.7" fill="#fff" stroke="#1a1a1a" stroke-width="0.9" stroke-linejoin="round"/><polygon points="401.6,307 401.7,306.1 401.9,305.1 402.3,304 402.7,302.9 403.3,301.8 403.9,300.8 404.6,299.8 405.3,298.9 406.1,298.2 406.8,297.6 407.6,297.3 408.3,297 408.9,297 409.4,297.2 410.7,297.9 411.1,298.3 411.5,298.8 411.6,299.5 411.7,300.3 411.6,301.3 411.4,302.3 411.1,303.4 410.6,304.5 410.1,305.6 409.5,306.6 408.8,307.6 408,308.4 407.3,309.2 406.5,309.7 405.8,310.1 405.1,310.3 404.5,310.4 403.9,310.2 402.6,309.4 402.2,309.1 401.9,308.6 401.7,307.9" fill="#fff" stroke="#1a1a1a" stroke-width="1" stroke-linejoin="round"/><polygon points="403.9,310.2 404.5,310.4 405.1,310.3 405.8,310.1 406.5,309.7 407.3,309.2 408,308.4 408.8,307.6 409.5,306.6 410.1,305.6 410.6,304.5 411.1,303.4 411.4,302.3 411.6,301.3 411.7,300.3 411.6,299.5 411.5,298.8 411.2,298.3 410.7,297.9 410.2,297.8 409.6,297.8 408.9,298 408.2,298.4 407.4,298.9 406.6,299.7 405.9,300.5 405.2,301.5 404.6,302.5 404,303.6 403.6,304.7 403.3,305.8 403,306.8 403,307.8 403,308.6 403.2,309.3 403.5,309.8" fill="#fff" stroke="#1a1a1a" stroke-width="0.9" stroke-linejoin="round"/><polygon points="401.7,308.8 401.8,307.6 402.1,306.3 402.5,304.9 403.1,303.5 403.8,302.1 404.6,300.8 405.5,299.5 406.4,298.4 407.4,297.5 408.4,296.8 409.3,296.2 410.2,296 411,296 411.7,296.2 414.3,297.6 414.9,298.1 415.3,298.8 415.5,299.7 415.6,300.7 415.5,302 415.2,303.3 414.8,304.7 414.2,306.1 413.5,307.5 412.7,308.8 411.8,310.1 410.9,311.1 409.9,312.1 408.9,312.8 408,313.3 407.1,313.6 406.3,313.6 405.6,313.4 403,311.9 402.4,311.5 402,310.8 401.8,309.9" fill="#fff" stroke="#1a1a1a" stroke-width="1" stroke-linejoin="round"/><polygon points="405.6,313.4 406.3,313.6 407.1,313.6 408,313.3 408.9,312.8 409.9,312.1 410.9,311.2 411.8,310.1 412.7,308.8 413.5,307.5 414.2,306.1 414.8,304.7 415.2,303.3 415.5,302 415.6,300.7 415.5,299.7 415.3,298.8 414.9,298.1 414.3,297.6 413.7,297.4 412.9,297.4 412,297.7 411,298.2 410.1,299 409.1,299.9 408.1,301 407.2,302.2 406.4,303.6 405.7,305 405.2,306.4 404.7,307.8 404.5,309.1 404.4,310.3 404.4,311.4 404.7,312.2 405.1,312.9" fill="#fff" stroke="#1a1a1a" stroke-width="0.9" stroke-linejoin="round"/><polygon points="406.6,308.4 406.6,307.7 406.8,306.9 407,306 407.4,305.2 407.8,304.3 408.3,303.5 408.9,302.7 409.4,302.1 410,301.5 410.6,301.1 411.2,300.8 411.7,300.6 412.2,300.6 412.6,300.7 420.6,305.1 420.9,305.4 421.2,305.8 421.3,306.3 421.3,307 421.3,307.7 421.1,308.5 420.9,309.4 420.5,310.2 420.1,311.1 419.6,311.9 419,312.7 418.5,313.4 417.9,313.9 417.3,314.4 416.7,314.7 416.1,314.8 415.7,314.9 415.2,314.7 407.3,310.3 407,310.1 406.7,309.6 406.6,309.1" fill="#fff" stroke="#1a1a1a" stroke-width="1" stroke-linejoin="round"/><polygon points="415.3,314.7 415.7,314.9 416.2,314.8 416.7,314.7 417.3,314.4 417.9,313.9 418.5,313.3 419,312.7 419.6,311.9 420.1,311.1 420.5,310.3 420.9,309.4 421.1,308.5 421.3,307.7 421.3,307 421.3,306.3 421.2,305.8 420.9,305.4 420.6,305.1 420.2,305 419.7,305 419.1,305.1 418.6,305.4 418,305.9 417.4,306.5 416.8,307.1 416.2,307.9 415.7,308.7 415.3,309.6 415,310.4 414.7,311.3 414.5,312.1 414.5,312.8 414.5,313.5 414.7,314 414.9,314.4" fill="#fff" stroke="#1a1a1a" stroke-width="0.9" stroke-linejoin="round"/><polygon points="412.3,314.7 412.4,313.5 412.7,312.1 413.1,310.8 413.7,309.3 414.4,307.9 415.2,306.6 416.1,305.4 417,304.3 418,303.3 419,302.6 419.9,302.1 420.8,301.8 421.6,301.8 422.3,302 427.6,305 428.1,305.4 428.5,306.1 428.8,307 428.8,308.1 428.7,309.3 428.4,310.6 428,312 427.4,313.4 426.8,314.8 425.9,316.1 425,317.4 424.1,318.5 423.1,319.4 422.1,320.1 421.2,320.6 420.3,320.9 419.5,320.9 418.8,320.7 413.6,317.8 413,317.3 412.6,316.6 412.4,315.8" fill="#fff" stroke="#1a1a1a" stroke-width="1" stroke-linejoin="round"/><polygon points="418.8,320.7 419.5,320.9 420.3,320.9 421.2,320.6 422.1,320.1 423.1,319.4 424.1,318.5 425,317.4 425.9,316.1 426.7,314.8 427.4,313.4 428,312 428.4,310.6 428.7,309.3 428.8,308.1 428.7,307 428.5,306.1 428.1,305.4 427.6,305 426.9,304.7 426.1,304.8 425.2,305 424.3,305.5 423.3,306.3 422.3,307.2 421.4,308.3 420.5,309.5 419.7,310.9 419,312.3 418.4,313.7 418,315.1 417.7,316.4 417.6,317.6 417.7,318.7 417.9,319.6 418.3,320.2" fill="#fff" stroke="#1a1a1a" stroke-width="0.9" stroke-linejoin="round"/><polygon points="419.1,316.3 419.2,315.4 419.4,314.4 419.7,313.4 420.1,312.4 420.6,311.4 421.2,310.4 421.9,309.6 422.6,308.8 423.3,308.1 424,307.6 424.6,307.2 425.3,307 425.9,307 426.4,307.1 429,308.6 429.4,308.9 429.7,309.4 429.9,310.1 429.9,310.9 429.8,311.7 429.6,312.7 429.3,313.7 428.9,314.7 428.4,315.7 427.8,316.7 427.2,317.6 426.5,318.4 425.8,319 425.1,319.6 424.4,319.9 423.8,320.1 423.2,320.1 422.7,320 420.1,318.5 419.7,318.2 419.4,317.7 419.2,317.1" fill="#fff" stroke="#1a1a1a" stroke-width="1" stroke-linejoin="round"/><polygon points="422.7,320 423.2,320.1 423.8,320.1 424.4,319.9 425.1,319.6 425.8,319 426.5,318.4 427.2,317.6 427.8,316.7 428.4,315.7 428.9,314.7 429.3,313.7 429.6,312.7 429.8,311.7 429.9,310.8 429.9,310.1 429.7,309.4 429.4,308.9 429,308.6 428.5,308.4 427.9,308.5 427.3,308.7 426.6,309 425.9,309.6 425.2,310.2 424.5,311 423.9,311.9 423.3,312.9 422.8,313.9 422.4,314.9 422.1,315.9 421.9,316.9 421.8,317.7 421.8,318.5 422,319.2 422.3,319.7" fill="#fff" stroke="#1a1a1a" stroke-width="0.9" stroke-linejoin="round"/><polygon points="420.2,319.1 420.3,317.9 420.6,316.5 421,315.1 421.6,313.7 422.3,312.3 423.1,311 424,309.8 425,308.7 425.9,307.7 426.9,307 427.9,306.5 428.7,306.2 429.5,306.2 430.2,306.4 435.5,309.4 436,309.8 436.4,310.5 436.7,311.4 436.8,312.4 436.6,313.7 436.4,315 435.9,316.4 435.4,317.8 434.7,319.2 433.9,320.5 433,321.8 432,322.9 431.1,323.8 430.1,324.5 429.1,325 428.2,325.3 427.5,325.3 426.8,325.1 421.5,322.2 420.9,321.7 420.5,321 420.3,320.1" fill="#fff" stroke="#1a1a1a" stroke-width="1" stroke-linejoin="round"/><polygon points="426.8,325.1 427.5,325.3 428.3,325.3 429.1,325 430.1,324.5 431,323.8 432,322.9 433,321.8 433.9,320.5 434.7,319.2 435.4,317.8 436,316.4 436.4,315 436.6,313.7 436.7,312.4 436.7,311.4 436.4,310.5 436,309.8 435.5,309.3 434.8,309.1 434,309.2 433.1,309.4 432.2,309.9 431.2,310.7 430.2,311.6 429.3,312.7 428.4,313.9 427.6,315.3 426.9,316.7 426.3,318.1 425.9,319.5 425.6,320.8 425.5,322 425.6,323.1 425.8,324 426.2,324.6" fill="#fff" stroke="#1a1a1a" stroke-width="0.9" stroke-linejoin="round"/><polygon points="427.4,320.4 427.5,319.6 427.6,318.7 427.9,317.8 428.3,316.9 428.8,315.9 429.3,315 429.9,314.2 430.5,313.5 431.2,312.9 431.8,312.4 432.5,312 433.1,311.8 433.6,311.8 434,312 437.6,313.9 437.9,314.2 438.2,314.7 438.4,315.3 438.4,316 438.3,316.8 438.2,317.7 437.9,318.6 437.5,319.6 437,320.5 436.5,321.4 435.9,322.2 435.2,322.9 434.6,323.6 433.9,324 433.3,324.4 432.7,324.6 432.2,324.6 431.8,324.4 428.2,322.5 427.9,322.2 427.6,321.7 427.4,321.1" fill="#fff" stroke="#1a1a1a" stroke-width="1" stroke-linejoin="round"/><polygon points="431.8,324.4 432.2,324.6 432.7,324.6 433.3,324.4 434,324 434.6,323.5 435.3,322.9 435.9,322.2 436.5,321.4 437,320.5 437.5,319.5 437.9,318.6 438.2,317.7 438.3,316.8 438.4,316 438.4,315.3 438.2,314.7 437.9,314.2 437.6,313.9 437.1,313.8 436.6,313.8 436,314 435.4,314.3 434.7,314.8 434.1,315.4 433.4,316.1 432.8,317 432.3,317.9 431.8,318.8 431.4,319.7 431.2,320.7 431,321.5 430.9,322.4 431,323.1 431.1,323.7 431.4,324.1" fill="#fff" stroke="#1a1a1a" stroke-width="0.9" stroke-linejoin="round"/><polygon points="427.5,325.3 427.6,323.7 427.9,322 428.5,320.3 429.2,318.4 430.1,316.7 431.2,315 432.3,313.4 433.5,312 434.8,310.8 436,309.9 437.2,309.2 438.3,308.9 439.4,308.8 440.2,309.1 445.5,312 446.2,312.6 446.7,313.5 447,314.6 447.1,316 447,317.6 446.6,319.2 446.1,321 445.4,322.8 444.5,324.6 443.4,326.3 442.3,327.9 441.1,329.3 439.8,330.5 438.6,331.4 437.4,332.1 436.3,332.4 435.2,332.4 434.4,332.2 429.1,329.2 428.4,328.6 427.9,327.8 427.6,326.6" fill="#fff" stroke="#1a1a1a" stroke-width="1" stroke-linejoin="round"/><polygon points="434.4,332.2 435.3,332.4 436.3,332.4 437.4,332.1 438.6,331.4 439.8,330.5 441.1,329.3 442.3,327.9 443.4,326.3 444.5,324.6 445.4,322.8 446.1,321 446.7,319.2 447,317.5 447.1,316 447,314.6 446.7,313.5 446.2,312.6 445.5,312 444.6,311.8 443.6,311.8 442.5,312.1 441.3,312.8 440.1,313.7 438.8,314.9 437.6,316.3 436.5,317.9 435.4,319.6 434.5,321.4 433.8,323.2 433.2,325 432.9,326.6 432.8,328.2 432.9,329.6 433.2,330.7 433.7,331.6" fill="#fff" stroke="#1a1a1a" stroke-width="0.9" stroke-linejoin="round"/><polygon points="436.5,325 436.6,324.3 436.7,323.5 437,322.6 437.4,321.8 437.8,320.9 438.3,320.1 438.8,319.3 439.4,318.6 440,318.1 440.6,317.6 441.2,317.3 441.7,317.2 442.2,317.1 442.6,317.3 449.7,321.2 450,321.5 450.2,321.9 450.4,322.4 450.4,323.1 450.4,323.8 450.2,324.6 449.9,325.5 449.6,326.3 449.2,327.2 448.7,328 448.1,328.8 447.5,329.4 446.9,330 446.4,330.5 445.8,330.8 445.2,330.9 444.8,330.9 444.3,330.8 437.3,326.9 436.9,326.6 436.7,326.2 436.6,325.7" fill="#fff" stroke="#1a1a1a" stroke-width="1" stroke-linejoin="round"/><polygon points="444.3,330.8 444.8,330.9 445.2,330.9 445.8,330.8 446.4,330.5 446.9,330 447.5,329.4 448.1,328.8 448.7,328 449.2,327.2 449.6,326.3 449.9,325.5 450.2,324.6 450.4,323.8 450.4,323.1 450.4,322.4 450.2,321.9 450,321.5 449.7,321.2 449.2,321.1 448.8,321.1 448.2,321.2 447.6,321.5 447.1,322 446.5,322.6 445.9,323.2 445.3,324 444.8,324.8 444.4,325.7 444.1,326.5 443.8,327.4 443.6,328.2 443.6,328.9 443.6,329.6 443.8,330.1 444,330.5" fill="#fff" stroke="#1a1a1a" stroke-width="0.9" stroke-linejoin="round"/>
<polygon points="318.8,208.3 318.9,207 319.2,205.5 319.6,204 320.3,202.4 321.1,200.8 321.9,199.3 322.9,198 324,196.7 325.1,195.7 326.1,194.9 327.2,194.3 328.2,194 329.1,194 329.8,194.2 334.6,196.8 335.2,197.3 335.6,198.1 335.9,199.1 336,200.3 335.9,201.6 335.6,203.1 335.1,204.6 334.5,206.2 333.7,207.8 332.8,209.2 331.8,210.6 330.8,211.9 329.7,212.9 328.6,213.7 327.6,214.3 326.6,214.6 325.7,214.6 324.9,214.4 320.2,211.8 319.6,211.3 319.1,210.5 318.9,209.5" fill="#fff" stroke="#1a1a1a" stroke-width="1" stroke-linejoin="round"/><polygon points="324.9,214.4 325.7,214.6 326.6,214.6 327.5,214.3 328.6,213.7 329.7,212.9 330.8,211.9 331.8,210.6 332.8,209.3 333.7,207.8 334.5,206.2 335.1,204.6 335.6,203.1 335.9,201.6 336,200.3 335.9,199.1 335.6,198.1 335.2,197.3 334.5,196.8 333.8,196.6 332.9,196.6 331.9,196.9 330.9,197.5 329.8,198.3 328.7,199.3 327.7,200.6 326.7,201.9 325.8,203.4 325,205 324.4,206.6 323.9,208.1 323.6,209.6 323.5,210.9 323.6,212.1 323.9,213.1 324.3,213.9" fill="#fff" stroke="#1a1a1a" stroke-width="0.9" stroke-linejoin="round"/><polygon points="324.8,209.9 324.9,208.8 325.1,207.6 325.5,206.4 326,205.1 326.6,203.9 327.3,202.7 328.1,201.6 328.9,200.6 329.8,199.8 330.7,199.1 331.5,198.7 332.3,198.4 333,198.4 333.6,198.6 335.2,199.4 335.7,199.9 336,200.5 336.2,201.3 336.3,202.2 336.2,203.3 336,204.5 335.6,205.7 335.1,206.9 334.5,208.2 333.8,209.4 333,210.5 332.1,211.5 331.3,212.3 330.4,212.9 329.6,213.4 328.8,213.7 328.1,213.7 327.5,213.5 325.9,212.6 325.4,212.2 325.1,211.6 324.8,210.8" fill="#fff" stroke="#1a1a1a" stroke-width="1" stroke-linejoin="round"/><polygon points="327.5,213.5 328.1,213.7 328.8,213.7 329.6,213.4 330.4,213 331.3,212.3 332.1,211.5 333,210.5 333.8,209.4 334.5,208.2 335.1,207 335.6,205.7 336,204.5 336.2,203.3 336.3,202.2 336.2,201.3 336,200.5 335.7,199.9 335.2,199.5 334.6,199.3 333.9,199.3 333.1,199.5 332.2,200 331.4,200.6 330.5,201.5 329.7,202.4 328.9,203.5 328.2,204.7 327.5,206 327,207.2 326.7,208.5 326.4,209.6 326.3,210.7 326.4,211.7 326.6,212.5 327,213.1" fill="#fff" stroke="#1a1a1a" stroke-width="0.9" stroke-linejoin="round"/><polygon points="325.1,211.8 325.2,210.4 325.5,209 326,207.4 326.6,205.9 327.4,204.3 328.3,202.8 329.3,201.4 330.3,200.2 331.4,199.2 332.5,198.4 333.5,197.8 334.5,197.5 335.4,197.5 336.1,197.7 340.1,199.9 340.7,200.4 341.1,201.1 341.4,202.1 341.5,203.3 341.4,204.7 341.1,206.1 340.6,207.7 340,209.2 339.2,210.8 338.3,212.3 337.3,213.7 336.3,214.9 335.2,215.9 334.1,216.7 333.1,217.3 332.1,217.6 331.2,217.6 330.5,217.4 326.5,215.2 325.9,214.7 325.4,214 325.2,213" fill="#fff" stroke="#1a1a1a" stroke-width="1" stroke-linejoin="round"/><polygon points="330.5,217.4 331.2,217.6 332.1,217.6 333.1,217.3 334.1,216.7 335.2,215.9 336.3,214.9 337.3,213.7 338.3,212.3 339.2,210.8 340,209.2 340.6,207.7 341.1,206.1 341.4,204.7 341.5,203.3 341.4,202.1 341.1,201.1 340.7,200.4 340.1,199.9 339.3,199.6 338.4,199.7 337.5,200 336.4,200.5 335.3,201.3 334.3,202.4 333.2,203.6 332.2,205 331.3,206.5 330.6,208 329.9,209.6 329.4,211.1 329.2,212.6 329.1,214 329.1,215.1 329.4,216.1 329.8,216.9" fill="#fff" stroke="#1a1a1a" stroke-width="0.9" stroke-linejoin="round"/><polygon points="331.5,211.8 331.6,211 331.8,210.1 332.1,209.2 332.4,208.3 332.9,207.3 333.4,206.4 334,205.6 334.7,204.9 335.3,204.3 336,203.8 336.6,203.4 337.2,203.2 337.7,203.2 338.2,203.4 344.5,206.8 344.8,207.2 345.1,207.6 345.3,208.2 345.3,208.9 345.3,209.7 345.1,210.6 344.8,211.5 344.4,212.5 344,213.4 343.4,214.3 342.8,215.1 342.2,215.9 341.6,216.5 340.9,217 340.3,217.3 339.7,217.5 339.2,217.5 338.7,217.4 332.4,213.9 332,213.6 331.8,213.1 331.6,212.5" fill="#fff" stroke="#1a1a1a" stroke-width="1" stroke-linejoin="round"/><polygon points="338.7,217.4 339.2,217.5 339.7,217.5 340.3,217.3 340.9,217 341.5,216.5 342.2,215.9 342.8,215.1 343.4,214.3 344,213.4 344.4,212.5 344.8,211.5 345.1,210.6 345.3,209.7 345.3,208.9 345.3,208.2 345.1,207.6 344.8,207.1 344.5,206.8 344,206.7 343.5,206.7 342.9,206.9 342.3,207.2 341.6,207.7 341,208.3 340.4,209.1 339.8,209.9 339.2,210.8 338.8,211.7 338.4,212.7 338.1,213.6 337.9,214.5 337.9,215.3 337.9,216 338.1,216.6 338.3,217.1" fill="#fff" stroke="#1a1a1a" stroke-width="0.9" stroke-linejoin="round"/><polygon points="338.2,215 338.2,214.3 338.4,213.5 338.6,212.6 339,211.8 339.4,210.9 339.9,210.1 340.5,209.3 341,208.7 341.6,208.1 342.2,207.6 342.8,207.3 343.3,207.2 343.8,207.2 344.2,207.3 353.7,212.5 354.1,212.8 354.3,213.2 354.4,213.7 354.5,214.4 354.4,215.1 354.3,215.9 354,216.8 353.7,217.6 353.2,218.5 352.8,219.3 352.2,220.1 351.6,220.7 351,221.3 350.4,221.8 349.9,222.1 349.3,222.2 348.8,222.3 348.4,222.1 338.9,216.9 338.6,216.6 338.4,216.2 338.2,215.7" fill="#fff" stroke="#1a1a1a" stroke-width="1" stroke-linejoin="round"/><polygon points="348.4,222.1 348.8,222.3 349.3,222.2 349.9,222.1 350.4,221.8 351,221.3 351.6,220.7 352.2,220.1 352.7,219.3 353.2,218.5 353.7,217.6 354,216.8 354.3,215.9 354.4,215.1 354.5,214.4 354.4,213.7 354.3,213.2 354.1,212.8 353.7,212.5 353.3,212.3 352.8,212.4 352.3,212.5 351.7,212.8 351.1,213.3 350.5,213.9 349.9,214.5 349.4,215.3 348.9,216.1 348.5,217 348.1,217.8 347.9,218.7 347.7,219.5 347.7,220.2 347.7,220.9 347.8,221.4 348.1,221.8" fill="#fff" stroke="#1a1a1a" stroke-width="0.9" stroke-linejoin="round"/><polygon points="344.5,222.9 344.6,221.5 344.9,219.9 345.4,218.3 345.9,216.6 346.4,214.7 347.1,212.6 348.1,210.1 349.5,207.6 351.2,205.4 353,204 354.6,203.5 355.8,204.1 362.1,207.5 362.8,208.7 363.2,210.1 363.5,211.5 363.7,212.7 363.9,213.9 363.9,215.2 363.8,216.6 363.5,218.1 363,219.8 362.4,221.4 361.5,223 360.6,224.6 359.6,226.1 358.5,227.3 357.3,228.4 356.2,229.3 355.1,229.9 354.1,230.2 353.1,230.2 352.3,230 346,226.5 345.4,226 344.9,225.2 344.6,224.1" fill="#fff" stroke="#1a1a1a" stroke-width="1" stroke-linejoin="round"/><polygon points="352.3,230 353.1,230.2 354.1,230.2 355.1,229.9 356.2,229.3 357.3,228.4 358.5,227.3 359.6,226.1 360.6,224.6 361.5,223 362.3,221.4 363,219.8 363.5,218.1 363.8,216.6 363.9,215.2 363.9,213.9 363.7,212.7 363.5,211.5 363.2,210.1 362.8,208.7 362.1,207.5 360.9,207 359.3,207.4 357.5,208.8 355.8,211 354.4,213.6 353.4,216 352.7,218.2 352.2,220.1 351.7,221.8 351.3,223.4 351,224.9 350.9,226.4 350.9,227.6 351.2,228.6 351.7,229.4" fill="#fff" stroke="#1a1a1a" stroke-width="0.9" stroke-linejoin="round"/><polygon points="354,223.7 354,223 354.2,222.2 354.4,221.3 354.8,220.4 355.2,219.6 355.7,218.8 356.3,218 356.8,217.3 357.4,216.8 358,216.3 358.6,216 359.1,215.8 359.6,215.8 360,215.9 362.4,217.2 362.7,217.5 363,217.9 363.1,218.5 363.2,219.1 363.1,219.9 363,220.7 362.7,221.5 362.4,222.4 361.9,223.3 361.4,224.1 360.9,224.8 360.3,225.5 359.7,226.1 359.1,226.5 358.6,226.8 358,227 357.5,227 357.1,226.9 354.8,225.6 354.4,225.3 354.2,224.9 354,224.3" fill="#fff" stroke="#1a1a1a" stroke-width="1" stroke-linejoin="round"/><polygon points="357.1,226.9 357.5,227 358,227 358.6,226.8 359.1,226.5 359.7,226.1 360.3,225.5 360.9,224.8 361.4,224.1 361.9,223.3 362.4,222.4 362.7,221.5 363,220.7 363.1,219.9 363.2,219.1 363.1,218.5 363,217.9 362.7,217.5 362.4,217.2 362,217.1 361.5,217.1 361,217.3 360.4,217.6 359.8,218.1 359.2,218.6 358.6,219.3 358.1,220.1 357.6,220.9 357.2,221.7 356.8,222.6 356.6,223.5 356.4,224.3 356.3,225 356.4,225.7 356.5,226.2 356.8,226.6" fill="#fff" stroke="#1a1a1a" stroke-width="0.9" stroke-linejoin="round"/><polygon points="350.3,234.2 350.4,232 351.1,229.5 352,227.1 353,225 353.9,223.1 354.8,221.4 355.6,219.8 356.6,218.2 357.6,216.8 358.7,215.5 359.8,214.4 361,213.6 362.1,213 363.1,212.6 364,212.6 364.8,212.9 371.1,216.3 371.8,216.9 372.2,217.7 372.5,218.7 372.6,219.9 372.5,221.4 372.2,222.9 371.7,224.5 371,226.2 370.2,227.8 369.3,229.4 368.2,230.8 367.1,232.2 366,233.4 364.8,234.8 363.3,236.4 361.7,237.9 360,239.2 358.3,239.7 357.1,239.2 350.8,235.7" fill="#fff" stroke="#1a1a1a" stroke-width="1" stroke-linejoin="round"/><polygon points="358.3,239.7 360,239.2 361.7,237.9 363.3,236.4 364.8,234.8 366,233.5 367.2,232.2 368.3,230.8 369.3,229.4 370.2,227.8 371,226.2 371.7,224.5 372.2,222.9 372.5,221.4 372.6,219.9 372.5,218.7 372.2,217.7 371.8,216.9 371.1,216.3 370.3,216.1 369.4,216.1 368.4,216.4 367.3,217 366.2,217.9 365,219 363.9,220.3 362.9,221.7 361.9,223.3 361.1,224.9 360.3,226.6 359.3,228.4 358.4,230.6 357.4,233 356.7,235.5 356.6,237.7 357.1,239.2" fill="#fff" stroke="#1a1a1a" stroke-width="0.9" stroke-linejoin="round"/><polygon points="362.7,228.5 362.7,227.7 362.9,226.9 363.1,226.1 363.5,225.2 363.9,224.3 364.4,223.5 364.9,222.8 365.5,222.1 366.1,221.5 366.7,221.1 367.3,220.8 367.8,220.6 368.3,220.6 368.7,220.7 377.4,225.5 377.8,225.8 378,226.2 378.1,226.7 378.2,227.4 378.1,228.1 378,228.9 377.7,229.8 377.4,230.6 376.9,231.5 376.4,232.3 375.9,233.1 375.3,233.8 374.7,234.3 374.1,234.8 373.6,235.1 373,235.2 372.6,235.3 372.1,235.1 363.4,230.4 363.1,230.1 362.9,229.7 362.7,229.1" fill="#fff" stroke="#1a1a1a" stroke-width="1" stroke-linejoin="round"/><polygon points="372.1,235.1 372.5,235.3 373,235.2 373.6,235.1 374.1,234.8 374.7,234.3 375.3,233.7 375.9,233.1 376.5,232.3 376.9,231.5 377.4,230.6 377.7,229.8 378,228.9 378.1,228.1 378.2,227.4 378.2,226.7 378,226.2 377.8,225.8 377.4,225.5 377,225.3 376.5,225.4 376,225.5 375.4,225.8 374.8,226.3 374.2,226.9 373.6,227.5 373.1,228.3 372.6,229.1 372.2,230 371.8,230.8 371.6,231.7 371.4,232.5 371.4,233.2 371.4,233.9 371.5,234.4 371.8,234.8" fill="#fff" stroke="#1a1a1a" stroke-width="0.9" stroke-linejoin="round"/><polygon points="369.2,235.1 369.3,233.9 369.5,232.6 370,231.2 370.5,229.8 371.2,228.4 372,227 372.9,225.8 373.9,224.7 374.8,223.7 375.8,223 376.8,222.5 377.6,222.2 378.4,222.2 379.1,222.4 384.6,225.4 385.2,225.9 385.6,226.6 385.8,227.5 385.9,228.6 385.8,229.8 385.5,231.1 385.1,232.5 384.6,233.9 383.9,235.3 383.1,236.6 382.2,237.9 381.2,239 380.2,239.9 379.3,240.6 378.3,241.2 377.4,241.4 376.7,241.4 376,241.2 370.4,238.2 369.9,237.7 369.5,237.1 369.2,236.2" fill="#fff" stroke="#1a1a1a" stroke-width="1" stroke-linejoin="round"/><polygon points="376,241.2 376.7,241.4 377.5,241.4 378.3,241.1 379.3,240.6 380.2,239.9 381.2,239 382.2,237.9 383,236.6 383.9,235.3 384.6,233.9 385.1,232.5 385.5,231.1 385.8,229.8 385.9,228.5 385.8,227.5 385.6,226.6 385.2,225.9 384.6,225.4 384,225.2 383.2,225.3 382.3,225.5 381.3,226 380.4,226.8 379.4,227.7 378.4,228.8 377.6,230.1 376.8,231.4 376.1,232.8 375.5,234.2 375.1,235.6 374.8,236.9 374.7,238.1 374.8,239.2 375,240.1 375.4,240.8" fill="#fff" stroke="#1a1a1a" stroke-width="0.9" stroke-linejoin="round"/><polygon points="375.9,237.1 376,236.1 376.2,235.1 376.6,234 377,232.9 377.5,231.8 378.2,230.8 378.9,229.8 379.6,229 380.4,228.2 381.1,227.7 381.8,227.3 382.5,227.1 383.1,227 383.7,227.2 384.9,227.8 385.3,228.2 385.6,228.7 385.8,229.4 385.8,230.3 385.8,231.2 385.6,232.2 385.2,233.3 384.8,234.4 384.2,235.5 383.6,236.6 382.9,237.5 382.2,238.4 381.4,239.1 380.7,239.7 380,240.1 379.3,240.3 378.6,240.3 378.1,240.1 376.9,239.5 376.5,239.1 376.2,238.6 376,237.9" fill="#fff" stroke="#1a1a1a" stroke-width="1" stroke-linejoin="round"/><polygon points="378.1,240.1 378.7,240.3 379.3,240.3 380,240.1 380.7,239.7 381.4,239.1 382.2,238.4 382.9,237.5 383.6,236.5 384.3,235.5 384.8,234.4 385.2,233.3 385.6,232.2 385.8,231.2 385.8,230.3 385.8,229.4 385.6,228.7 385.3,228.2 384.9,227.9 384.3,227.7 383.7,227.7 383,227.9 382.3,228.3 381.5,228.9 380.8,229.6 380,230.5 379.4,231.4 378.7,232.5 378.2,233.6 377.7,234.7 377.4,235.7 377.2,236.8 377.1,237.7 377.2,238.5 377.4,239.2 377.7,239.8" fill="#fff" stroke="#1a1a1a" stroke-width="0.9" stroke-linejoin="round"/><polygon points="375.9,238.8 376,237.6 376.2,236.2 376.7,234.9 377.2,233.4 377.9,232 378.7,230.7 379.6,229.5 380.6,228.4 381.6,227.4 382.5,226.7 383.5,226.2 384.3,225.9 385.1,225.9 385.8,226.1 388.2,227.4 388.7,227.9 389.1,228.5 389.4,229.4 389.5,230.5 389.4,231.7 389.1,233 388.7,234.4 388.1,235.8 387.4,237.2 386.6,238.6 385.7,239.8 384.8,240.9 383.8,241.8 382.8,242.6 381.9,243.1 381,243.4 380.2,243.4 379.5,243.2 377.2,241.9 376.6,241.4 376.2,240.7 376,239.8" fill="#fff" stroke="#1a1a1a" stroke-width="1" stroke-linejoin="round"/><polygon points="379.5,243.2 380.2,243.4 381,243.4 381.9,243.1 382.8,242.6 383.8,241.9 384.8,240.9 385.7,239.8 386.6,238.6 387.4,237.2 388.1,235.8 388.7,234.4 389.1,233 389.4,231.7 389.5,230.5 389.4,229.4 389.1,228.5 388.7,227.9 388.2,227.4 387.5,227.2 386.7,227.2 385.8,227.5 384.9,228 383.9,228.7 382.9,229.7 382,230.8 381.1,232 380.3,233.3 379.6,234.7 379,236.2 378.6,237.5 378.4,238.9 378.3,240.1 378.3,241.1 378.6,242 379,242.7" fill="#fff" stroke="#1a1a1a" stroke-width="0.9" stroke-linejoin="round"/><polygon points="380.4,238.2 380.5,237.5 380.7,236.7 380.9,235.8 381.3,234.9 381.7,234.1 382.2,233.3 382.7,232.5 383.3,231.8 383.9,231.3 384.5,230.8 385.1,230.5 385.6,230.3 386.1,230.3 386.5,230.5 396,235.7 396.3,235.9 396.6,236.4 396.7,236.9 396.8,237.6 396.7,238.3 396.5,239.1 396.3,240 395.9,240.8 395.5,241.7 395,242.5 394.5,243.3 393.9,243.9 393.3,244.5 392.7,244.9 392.1,245.3 391.6,245.4 391.1,245.4 390.7,245.3 381.2,240.1 380.9,239.8 380.6,239.4 380.5,238.9" fill="#fff" stroke="#1a1a1a" stroke-width="1" stroke-linejoin="round"/><polygon points="390.7,245.3 391.1,245.4 391.6,245.4 392.1,245.3 392.7,244.9 393.3,244.5 393.9,243.9 394.5,243.3 395,242.5 395.5,241.7 395.9,240.8 396.3,240 396.5,239.1 396.7,238.3 396.8,237.6 396.7,236.9 396.6,236.4 396.3,235.9 396,235.7 395.6,235.5 395.1,235.6 394.5,235.7 394,236 393.4,236.5 392.8,237 392.2,237.7 391.7,238.5 391.2,239.3 390.7,240.2 390.4,241 390.1,241.9 390,242.7 389.9,243.4 390,244.1 390.1,244.6 390.4,245" fill="#fff" stroke="#1a1a1a" stroke-width="0.9" stroke-linejoin="round"/><polygon points="386.8,246.1 386.9,244.7 387.2,243.1 387.7,241.5 388.4,239.8 389.2,238.2 390.1,236.7 391.2,235.2 392.2,233.7 393.4,232.1 394.8,230.3 396.4,228.4 398.1,226.9 399.9,225.9 401.3,226 407.6,229.5 408.4,230.6 408.6,232.6 408.2,234.9 407.5,237.3 406.7,239.4 405.3,242.9 404.6,244.6 403.8,246.2 402.9,247.8 401.8,249.2 400.7,250.5 399.6,251.6 398.5,252.5 397.4,253.1 396.3,253.4 395.4,253.4 394.6,253.2 388.3,249.7 387.6,249.2 387.2,248.4 386.9,247.3" fill="#fff" stroke="#1a1a1a" stroke-width="1" stroke-linejoin="round"/><polygon points="394.6,253.2 395.4,253.4 396.3,253.4 397.4,253.1 398.5,252.5 399.6,251.6 400.7,250.5 401.8,249.2 402.9,247.8 403.8,246.2 404.6,244.6 405.3,242.9 406,241.2 406.7,239.4 407.5,237.3 408.2,234.9 408.6,232.6 408.4,230.6 407.6,229.5 406.2,229.4 404.5,230.3 402.7,231.9 401.1,233.8 399.7,235.6 398.6,237.2 397.5,238.6 396.5,240.1 395.5,241.7 394.7,243.3 394,245 393.5,246.6 393.2,248.1 393.1,249.5 393.2,250.8 393.5,251.8 394,252.6" fill="#fff" stroke="#1a1a1a" stroke-width="0.9" stroke-linejoin="round"/><polygon points="396.2,246.9 396.3,246.1 396.5,245.3 396.7,244.5 397.1,243.6 397.5,242.8 398,241.9 398.5,241.2 399.1,240.5 399.7,239.9 400.3,239.5 400.9,239.2 401.4,239 401.9,239 402.3,239.1 404.7,240.4 405,240.7 405.3,241.1 405.4,241.7 405.4,242.3 405.4,243.1 405.2,243.9 405,244.7 404.6,245.6 404.2,246.4 403.7,247.3 403.2,248 402.6,248.7 402,249.3 401.4,249.7 400.8,250 400.3,250.2 399.8,250.2 399.4,250.1 397,248.8 396.7,248.5 396.4,248.1 396.3,247.5" fill="#fff" stroke="#1a1a1a" stroke-width="1" stroke-linejoin="round"/><polygon points="399.4,250.1 399.8,250.2 400.3,250.2 400.8,250 401.4,249.7 402,249.3 402.6,248.7 403.2,248 403.7,247.3 404.2,246.4 404.6,245.6 405,244.7 405.2,243.9 405.4,243.1 405.5,242.3 405.4,241.7 405.3,241.1 405,240.7 404.7,240.4 404.3,240.3 403.8,240.3 403.2,240.5 402.7,240.8 402.1,241.2 401.5,241.8 400.9,242.5 400.4,243.2 399.9,244.1 399.4,244.9 399.1,245.8 398.8,246.6 398.7,247.4 398.6,248.2 398.7,248.8 398.8,249.4 399,249.8" fill="#fff" stroke="#1a1a1a" stroke-width="0.9" stroke-linejoin="round"/><polygon points="392,251.8 392.5,249.4 393.7,246.8 395.2,244.4 396.9,242.4 398.4,240.9 400.9,238.6 402.1,237.6 403.2,236.7 404.3,236.2 405.4,235.8 406.3,235.8 407.1,236.1 413.4,239.5 414,240.1 414.5,240.8 414.8,241.9 414.9,243.1 414.8,244.6 414.5,246.1 414,247.7 413.3,249.4 412.5,251 411.6,252.6 410.5,254 409.4,255.3 408.3,256.4 407.1,257.2 406.1,257.8 405,258.2 404,258.4 403,258.6 401.8,258.7 400.5,258.7 399.3,258.3 393,254.8 392.2,253.7" fill="#fff" stroke="#1a1a1a" stroke-width="1" stroke-linejoin="round"/><polygon points="403,258.6 404,258.4 405,258.2 406,257.8 407.1,257.2 408.3,256.4 409.4,255.3 410.5,254 411.6,252.6 412.5,251 413.3,249.4 414,247.7 414.5,246.1 414.8,244.5 414.9,243.1 414.8,241.9 414.5,240.9 414,240.1 413.4,239.5 412.6,239.3 411.7,239.3 410.7,239.6 409.6,240.2 408.4,241.1 407.3,242.1 406.1,243.1 404.7,244.4 403.2,245.9 401.6,247.8 400,250.2 398.8,252.8 398.3,255.3 398.5,257.2 399.3,258.3 400.5,258.7 401.8,258.7" fill="#fff" stroke="#1a1a1a" stroke-width="0.9" stroke-linejoin="round"/><polygon points="404.9,251.7 405,250.9 405.1,250.1 405.4,249.3 405.8,248.4 406.2,247.5 406.7,246.7 407.2,246 407.8,245.3 408.4,244.7 409,244.3 409.6,243.9 410.1,243.8 410.6,243.8 411,243.9 419.7,248.7 420,248.9 420.3,249.4 420.4,249.9 420.5,250.6 420.4,251.3 420.2,252.1 420,253 419.6,253.8 419.2,254.7 418.7,255.5 418.2,256.3 417.6,256.9 417,257.5 416.4,257.9 415.8,258.3 415.3,258.4 414.8,258.4 414.4,258.3 405.7,253.6 405.4,253.3 405.1,252.8 405,252.3" fill="#fff" stroke="#1a1a1a" stroke-width="1" stroke-linejoin="round"/><polygon points="414.4,258.3 414.8,258.4 415.3,258.4 415.8,258.3 416.4,258 417,257.5 417.6,256.9 418.2,256.3 418.7,255.5 419.2,254.7 419.6,253.8 420,253 420.2,252.1 420.4,251.3 420.5,250.6 420.4,249.9 420.3,249.4 420,248.9 419.7,248.7 419.3,248.5 418.8,248.6 418.2,248.7 417.7,249 417.1,249.5 416.5,250.1 415.9,250.7 415.4,251.5 414.9,252.3 414.4,253.2 414.1,254 413.8,254.9 413.7,255.7 413.6,256.4 413.7,257.1 413.8,257.6 414.1,258" fill="#fff" stroke="#1a1a1a" stroke-width="0.9" stroke-linejoin="round"/><polygon points="411.4,258.3 411.5,257.1 411.8,255.8 412.2,254.4 412.8,252.9 413.5,251.5 414.3,250.2 415.2,249 416.1,247.9 417.1,246.9 418.1,246.2 419,245.7 419.9,245.4 420.7,245.4 421.4,245.6 426.9,248.6 427.4,249.1 427.9,249.8 428.1,250.7 428.2,251.7 428.1,252.9 427.8,254.3 427.4,255.7 426.8,257.1 426.1,258.5 425.3,259.8 424.4,261.1 423.5,262.2 422.5,263.1 421.5,263.8 420.6,264.3 419.7,264.6 418.9,264.6 418.2,264.4 412.7,261.4 412.2,260.9 411.8,260.2 411.5,259.4" fill="#fff" stroke="#1a1a1a" stroke-width="1" stroke-linejoin="round"/><polygon points="418.2,264.4 418.9,264.6 419.7,264.6 420.6,264.3 421.5,263.8 422.5,263.1 423.5,262.2 424.4,261.1 425.3,259.8 426.1,258.5 426.8,257.1 427.4,255.7 427.8,254.3 428.1,252.9 428.2,251.7 428.1,250.7 427.9,249.8 427.5,249.1 426.9,248.6 426.2,248.4 425.4,248.4 424.5,248.7 423.6,249.2 422.6,250 421.7,250.9 420.7,252 419.8,253.2 419,254.6 418.3,256 417.8,257.4 417.3,258.8 417.1,260.1 417,261.3 417,262.4 417.3,263.3 417.7,264" fill="#fff" stroke="#1a1a1a" stroke-width="0.9" stroke-linejoin="round"/><polygon points="418.2,260.2 418.3,259.3 418.5,258.3 418.8,257.2 419.3,256.1 419.8,255 420.4,254 421.1,253 421.9,252.2 422.6,251.4 423.4,250.8 424.1,250.4 424.8,250.2 425.4,250.2 425.9,250.4 427.1,251 427.6,251.4 427.9,251.9 428.1,252.6 428.1,253.4 428,254.4 427.8,255.4 427.5,256.5 427.1,257.6 426.5,258.7 425.9,259.7 425.2,260.7 424.5,261.6 423.7,262.3 422.9,262.9 422.2,263.2 421.5,263.5 420.9,263.5 420.4,263.3 419.2,262.7 418.8,262.3 418.5,261.8 418.3,261.1" fill="#fff" stroke="#1a1a1a" stroke-width="1" stroke-linejoin="round"/><polygon points="420.4,263.3 420.9,263.5 421.5,263.5 422.2,263.2 423,262.9 423.7,262.3 424.5,261.6 425.2,260.7 425.9,259.7 426.5,258.7 427.1,257.6 427.5,256.5 427.8,255.4 428,254.4 428.1,253.4 428.1,252.6 427.9,251.9 427.6,251.4 427.1,251 426.6,250.9 426,250.9 425.3,251.1 424.6,251.5 423.8,252.1 423.1,252.8 422.3,253.7 421.6,254.6 421,255.7 420.5,256.7 420,257.9 419.7,258.9 419.5,260 419.4,260.9 419.5,261.7 419.7,262.4 420,263" fill="#fff" stroke="#1a1a1a" stroke-width="0.9" stroke-linejoin="round"/><polygon points="418.2,262 418.3,260.8 418.5,259.4 418.9,258 419.5,256.6 420.2,255.2 421,253.9 421.9,252.7 422.9,251.5 423.8,250.6 424.8,249.9 425.7,249.4 426.6,249.1 427.4,249.1 428.1,249.3 430.5,250.6 431,251 431.4,251.7 431.6,252.6 431.7,253.7 431.6,254.9 431.4,256.2 430.9,257.6 430.4,259 429.7,260.4 428.9,261.8 428,263 427,264.1 426.1,265 425.1,265.8 424.2,266.3 423.3,266.6 422.5,266.6 421.8,266.4 419.4,265.1 418.9,264.6 418.5,263.9 418.2,263" fill="#fff" stroke="#1a1a1a" stroke-width="1" stroke-linejoin="round"/><polygon points="421.8,266.4 422.5,266.6 423.3,266.6 424.2,266.3 425.1,265.8 426.1,265 427,264.1 428,263 428.9,261.8 429.7,260.4 430.4,259 430.9,257.6 431.4,256.2 431.6,254.9 431.7,253.7 431.7,252.6 431.4,251.7 431,251 430.5,250.6 429.8,250.4 429,250.4 428.1,250.7 427.2,251.2 426.2,251.9 425.2,252.8 424.3,253.9 423.4,255.2 422.6,256.5 421.9,257.9 421.3,259.3 420.9,260.7 420.6,262.1 420.5,263.3 420.6,264.3 420.8,265.2 421.2,265.9" fill="#fff" stroke="#1a1a1a" stroke-width="0.9" stroke-linejoin="round"/><polygon points="422.7,261.4 422.8,260.7 422.9,259.9 423.2,259 423.5,258.1 424,257.3 424.4,256.5 425,255.7 425.6,255 426.2,254.5 426.8,254 427.3,253.7 427.9,253.5 428.4,253.5 428.8,253.7 438.2,258.9 438.6,259.1 438.8,259.6 439,260.1 439,260.8 439,261.5 438.8,262.3 438.6,263.1 438.2,264 437.8,264.9 437.3,265.7 436.7,266.4 436.2,267.1 435.6,267.7 435,268.1 434.4,268.4 433.9,268.6 433.4,268.6 433,268.5 423.5,263.3 423.1,263 422.9,262.6 422.8,262.1" fill="#fff" stroke="#1a1a1a" stroke-width="1" stroke-linejoin="round"/><polygon points="433,268.5 433.4,268.6 433.9,268.6 434.4,268.4 435,268.1 435.6,267.7 436.2,267.1 436.7,266.4 437.3,265.7 437.8,264.9 438.2,264 438.6,263.1 438.8,262.3 439,261.5 439,260.7 439,260.1 438.8,259.6 438.6,259.1 438.3,258.9 437.8,258.7 437.4,258.7 436.8,258.9 436.2,259.2 435.6,259.7 435.1,260.2 434.5,260.9 433.9,261.7 433.4,262.5 433,263.3 432.7,264.2 432.4,265.1 432.2,265.9 432.2,266.6 432.2,267.3 432.4,267.8 432.6,268.2" fill="#fff" stroke="#1a1a1a" stroke-width="0.9" stroke-linejoin="round"/><polygon points="429.1,269.3 429.2,267.9 429.5,266.3 429.9,264.7 430.4,263 430.9,261.1 431.6,258.9 432.6,256.5 434,253.9 435.7,251.8 437.5,250.3 439.1,249.9 440.3,250.4 446.6,253.9 447.4,255.1 447.8,256.5 448,257.9 448.2,259.1 448.4,260.3 448.5,261.6 448.4,263 448,264.5 447.6,266.1 446.9,267.8 446.1,269.4 445.1,271 444.1,272.4 443,273.7 441.9,274.8 440.7,275.7 439.6,276.2 438.6,276.6 437.7,276.6 436.9,276.4 430.6,272.9 429.9,272.4 429.4,271.6 429.2,270.5" fill="#fff" stroke="#1a1a1a" stroke-width="1" stroke-linejoin="round"/><polygon points="436.9,276.4 437.7,276.6 438.6,276.6 439.6,276.3 440.7,275.7 441.9,274.8 443,273.7 444.1,272.4 445.1,271 446.1,269.4 446.9,267.8 447.6,266.1 448,264.5 448.3,263 448.5,261.6 448.4,260.3 448.2,259.1 448,257.9 447.8,256.5 447.4,255.1 446.6,253.9 445.4,253.4 443.8,253.8 442,255.2 440.4,257.4 439,259.9 438,262.4 437.3,264.6 436.7,266.5 436.2,268.2 435.8,269.8 435.5,271.3 435.4,272.7 435.5,274 435.8,275 436.2,275.8" fill="#fff" stroke="#1a1a1a" stroke-width="0.9" stroke-linejoin="round"/><polygon points="438.5,270.1 438.6,269.3 438.7,268.5 439,267.7 439.3,266.8 439.8,265.9 440.2,265.1 440.8,264.4 441.4,263.7 442,263.1 442.6,262.7 443.1,262.4 443.7,262.2 444.2,262.2 444.6,262.3 446.9,263.6 447.3,263.9 447.5,264.3 447.7,264.9 447.7,265.5 447.7,266.3 447.5,267.1 447.2,267.9 446.9,268.8 446.5,269.6 446,270.4 445.4,271.2 444.9,271.9 444.3,272.5 443.7,272.9 443.1,273.2 442.6,273.4 442.1,273.4 441.6,273.3 439.3,272 438.9,271.7 438.7,271.3 438.6,270.7" fill="#fff" stroke="#1a1a1a" stroke-width="1" stroke-linejoin="round"/><polygon points="441.7,273.3 442.1,273.4 442.6,273.4 443.1,273.2 443.7,272.9 444.3,272.5 444.9,271.9 445.4,271.2 446,270.5 446.5,269.6 446.9,268.8 447.2,267.9 447.5,267.1 447.7,266.3 447.7,265.5 447.7,264.9 447.5,264.3 447.3,263.9 446.9,263.6 446.5,263.5 446,263.5 445.5,263.7 444.9,264 444.3,264.4 443.7,265 443.2,265.7 442.6,266.4 442.1,267.3 441.7,268.1 441.4,269 441.1,269.8 440.9,270.6 440.9,271.4 440.9,272 441.1,272.6 441.3,273" fill="#fff" stroke="#1a1a1a" stroke-width="0.9" stroke-linejoin="round"/><polygon points="434.8,280.6 434.9,278.4 435.6,275.9 436.6,273.5 437.6,271.4 438.5,269.5 439.3,267.8 440.2,266.2 441.1,264.6 442.1,263.2 443.2,261.9 444.4,260.8 445.5,259.9 446.6,259.3 447.6,259 448.6,259 449.4,259.2 455.7,262.7 456.3,263.2 456.8,264 457.1,265.1 457.1,266.3 457,267.7 456.7,269.3 456.2,270.9 455.6,272.6 454.8,274.2 453.8,275.8 452.8,277.2 451.7,278.5 450.6,279.8 449.3,281.2 447.9,282.8 446.2,284.3 444.5,285.5 442.9,286 441.7,285.5 435.4,282.1" fill="#fff" stroke="#1a1a1a" stroke-width="1" stroke-linejoin="round"/><polygon points="442.9,286 444.5,285.5 446.2,284.3 447.9,282.8 449.3,281.2 450.5,279.8 451.7,278.5 452.8,277.2 453.8,275.7 454.8,274.2 455.6,272.6 456.2,270.9 456.7,269.3 457,267.7 457.2,266.3 457.1,265.1 456.8,264 456.3,263.2 455.7,262.7 454.9,262.5 453.9,262.5 452.9,262.8 451.8,263.4 450.7,264.3 449.6,265.3 448.5,266.6 447.4,268.1 446.5,269.6 445.6,271.3 444.8,273 443.9,274.8 442.9,276.9 441.9,279.3 441.3,281.8 441.1,284 441.7,285.5" fill="#fff" stroke="#1a1a1a" stroke-width="0.9" stroke-linejoin="round"/><polygon points="447.2,274.8 447.3,274.1 447.4,273.3 447.7,272.4 448,271.6 448.4,270.7 448.9,269.9 449.5,269.1 450.1,268.5 450.7,267.9 451.2,267.4 451.8,267.1 452.4,267 452.9,267 453.3,267.1 462,271.9 462.3,272.1 462.5,272.6 462.7,273.1 462.7,273.8 462.7,274.5 462.5,275.3 462.3,276.1 461.9,277 461.5,277.9 461,278.7 460.4,279.4 459.9,280.1 459.3,280.7 458.7,281.1 458.1,281.4 457.6,281.6 457.1,281.6 456.7,281.5 448,276.7 447.6,276.4 447.4,276 447.2,275.5" fill="#fff" stroke="#1a1a1a" stroke-width="1" stroke-linejoin="round"/><polygon points="456.7,281.5 457.1,281.6 457.6,281.6 458.1,281.5 458.7,281.1 459.3,280.7 459.9,280.1 460.4,279.4 461,278.7 461.5,277.9 461.9,277 462.3,276.1 462.5,275.3 462.7,274.5 462.7,273.8 462.7,273.1 462.5,272.6 462.3,272.1 462,271.9 461.5,271.7 461.1,271.7 460.5,271.9 459.9,272.2 459.3,272.7 458.8,273.2 458.2,273.9 457.6,274.7 457.1,275.5 456.7,276.3 456.4,277.2 456.1,278.1 455.9,278.9 455.9,279.6 455.9,280.3 456.1,280.8 456.3,281.2" fill="#fff" stroke="#1a1a1a" stroke-width="0.9" stroke-linejoin="round"/><polygon points="453.7,281.5 453.8,280.3 454.1,278.9 454.5,277.6 455.1,276.1 455.8,274.7 456.6,273.4 457.5,272.1 458.4,271.1 459.4,270.1 460.4,269.4 461.3,268.9 462.2,268.6 463,268.6 463.6,268.8 469.2,271.8 469.7,272.3 470.1,273 470.4,273.9 470.4,274.9 470.3,276.1 470.1,277.4 469.7,278.8 469.1,280.3 468.4,281.7 467.6,283 466.7,284.2 465.8,285.4 464.8,286.3 463.8,287 462.9,287.5 462,287.8 461.2,287.8 460.5,287.6 455,284.6 454.4,284.1 454,283.4 453.8,282.5" fill="#fff" stroke="#1a1a1a" stroke-width="1" stroke-linejoin="round"/><polygon points="460.5,287.6 461.2,287.8 462,287.8 462.9,287.5 463.8,287 464.8,286.3 465.8,285.3 466.7,284.2 467.6,283 468.4,281.7 469.1,280.3 469.7,278.8 470.1,277.5 470.3,276.1 470.4,274.9 470.4,273.9 470.1,273 469.7,272.3 469.2,271.8 468.5,271.6 467.7,271.6 466.8,271.9 465.9,272.4 464.9,273.1 463.9,274.1 463,275.2 462.1,276.4 461.3,277.8 460.6,279.2 460,280.6 459.6,282 459.3,283.3 459.2,284.5 459.3,285.6 459.6,286.5 460,287.1" fill="#fff" stroke="#1a1a1a" stroke-width="0.9" stroke-linejoin="round"/><polygon points="460.5,283.4 460.6,282.5 460.8,281.5 461.1,280.4 461.5,279.3 462.1,278.2 462.7,277.2 463.4,276.2 464.1,275.3 464.9,274.6 465.6,274 466.4,273.6 467.1,273.4 467.7,273.4 468.2,273.6 469.4,274.2 469.8,274.6 470.1,275.1 470.3,275.8 470.4,276.6 470.3,277.6 470.1,278.6 469.8,279.7 469.3,280.8 468.8,281.9 468.2,282.9 467.5,283.9 466.7,284.7 466,285.5 465.2,286 464.5,286.4 463.8,286.6 463.2,286.7 462.7,286.5 461.5,285.9 461.1,285.5 460.7,285 460.6,284.3" fill="#fff" stroke="#1a1a1a" stroke-width="1" stroke-linejoin="round"/><polygon points="462.7,286.5 463.2,286.7 463.8,286.6 464.5,286.4 465.2,286 466,285.5 466.7,284.7 467.5,283.9 468.2,282.9 468.8,281.9 469.3,280.8 469.8,279.7 470.1,278.6 470.3,277.6 470.4,276.6 470.3,275.8 470.1,275.1 469.8,274.6 469.4,274.2 468.9,274.1 468.2,274.1 467.6,274.3 466.8,274.7 466.1,275.3 465.3,276 464.6,276.8 463.9,277.8 463.3,278.8 462.7,279.9 462.3,281 462,282.1 461.7,283.1 461.7,284.1 461.7,284.9 461.9,285.6 462.2,286.1" fill="#fff" stroke="#1a1a1a" stroke-width="0.9" stroke-linejoin="round"/><polygon points="460.4,285.2 460.5,283.9 460.8,282.6 461.2,281.2 461.8,279.8 462.5,278.4 463.3,277.1 464.2,275.8 465.1,274.7 466.1,273.8 467.1,273.1 468,272.6 468.9,272.3 469.7,272.2 470.4,272.5 472.7,273.8 473.3,274.2 473.7,274.9 473.9,275.8 474,276.9 473.9,278.1 473.6,279.4 473.2,280.8 472.6,282.2 471.9,283.6 471.1,284.9 470.2,286.2 469.3,287.3 468.3,288.2 467.4,289 466.4,289.5 465.5,289.7 464.8,289.8 464.1,289.6 461.7,288.2 461.1,287.8 460.8,287.1 460.5,286.2" fill="#fff" stroke="#1a1a1a" stroke-width="1" stroke-linejoin="round"/><polygon points="464.1,289.6 464.8,289.8 465.5,289.7 466.4,289.5 467.4,289 468.3,288.2 469.3,287.3 470.3,286.2 471.1,285 471.9,283.6 472.6,282.2 473.2,280.8 473.6,279.4 473.9,278.1 474,276.9 473.9,275.8 473.7,274.9 473.3,274.2 472.7,273.8 472,273.6 471.3,273.6 470.4,273.9 469.4,274.4 468.5,275.1 467.5,276 466.5,277.1 465.7,278.4 464.8,279.7 464.1,281.1 463.6,282.5 463.2,283.9 462.9,285.2 462.8,286.5 462.9,287.5 463.1,288.4 463.5,289.1" fill="#fff" stroke="#1a1a1a" stroke-width="0.9" stroke-linejoin="round"/><polygon points="465,284.6 465,283.9 465.2,283 465.4,282.2 465.8,281.3 466.2,280.5 466.7,279.6 467.3,278.9 467.8,278.2 468.4,277.6 469,277.2 469.6,276.9 470.1,276.7 470.6,276.7 471,276.8 478.1,280.7 478.5,281 478.7,281.4 478.9,282 478.9,282.6 478.9,283.4 478.7,284.2 478.4,285 478.1,285.9 477.7,286.8 477.2,287.6 476.6,288.3 476.1,289 475.5,289.6 474.9,290 474.3,290.3 473.8,290.5 473.3,290.5 472.9,290.4 465.8,286.5 465.4,286.2 465.2,285.8 465,285.2" fill="#fff" stroke="#1a1a1a" stroke-width="1" stroke-linejoin="round"/><polygon points="472.9,290.4 473.3,290.5 473.8,290.5 474.3,290.3 474.9,290 475.5,289.6 476.1,289 476.6,288.3 477.2,287.6 477.7,286.8 478.1,285.9 478.5,285 478.7,284.2 478.9,283.4 478.9,282.6 478.9,282 478.7,281.4 478.5,281 478.2,280.7 477.7,280.6 477.3,280.6 476.7,280.8 476.1,281.1 475.5,281.6 475,282.1 474.4,282.8 473.8,283.6 473.3,284.4 472.9,285.2 472.6,286.1 472.3,286.9 472.1,287.8 472.1,288.5 472.1,289.1 472.3,289.7 472.5,290.1" fill="#fff" stroke="#1a1a1a" stroke-width="0.9" stroke-linejoin="round"/><polygon points="469.9,290.4 470,289.1 470.3,287.8 470.7,286.4 471.3,285 472,283.6 472.8,282.3 473.6,281 474.6,279.9 475.6,279 476.5,278.3 477.5,277.8 478.4,277.5 479.1,277.5 479.8,277.7 484.6,280.3 485.1,280.7 485.5,281.4 485.8,282.3 485.9,283.4 485.8,284.6 485.5,285.9 485.1,287.3 484.5,288.7 483.8,290.1 483,291.4 482.1,292.7 481.2,293.8 480.2,294.7 479.2,295.5 478.3,296 477.4,296.2 476.6,296.3 475.9,296.1 471.2,293.5 470.6,293 470.2,292.3 470,291.4" fill="#fff" stroke="#1a1a1a" stroke-width="1" stroke-linejoin="round"/><polygon points="475.9,296.1 476.6,296.3 477.4,296.2 478.3,296 479.2,295.5 480.2,294.7 481.2,293.8 482.1,292.7 483,291.5 483.8,290.1 484.5,288.7 485.1,287.3 485.5,285.9 485.8,284.6 485.8,283.4 485.8,282.3 485.5,281.4 485.1,280.7 484.6,280.3 483.9,280.1 483.1,280.1 482.2,280.4 481.3,280.9 480.3,281.6 479.3,282.5 478.4,283.6 477.5,284.9 476.7,286.2 476,287.6 475.4,289 475,290.4 474.7,291.7 474.6,293 474.7,294 475,294.9 475.4,295.6" fill="#fff" stroke="#1a1a1a" stroke-width="0.9" stroke-linejoin="round"/><polygon points="476.2,291.6 476.3,290.8 476.5,289.8 476.8,288.8 477.2,287.8 477.7,286.8 478.3,285.8 478.9,284.9 479.6,284.1 480.3,283.4 481,282.9 481.7,282.5 482.3,282.3 482.9,282.3 483.4,282.5 485.7,283.8 486.1,284.1 486.4,284.6 486.6,285.2 486.7,286 486.6,286.9 486.4,287.8 486.1,288.8 485.7,289.9 485.2,290.9 484.6,291.8 484,292.7 483.3,293.5 482.6,294.2 481.9,294.7 481.2,295.1 480.6,295.3 480,295.3 479.5,295.2 477.1,293.9 476.7,293.5 476.4,293 476.3,292.4" fill="#fff" stroke="#1a1a1a" stroke-width="1" stroke-linejoin="round"/><polygon points="479.5,295.2 480,295.3 480.6,295.3 481.2,295.1 481.9,294.7 482.6,294.2 483.3,293.5 484,292.7 484.6,291.8 485.2,290.9 485.7,289.9 486.1,288.8 486.4,287.8 486.6,286.9 486.7,286 486.6,285.2 486.4,284.6 486.1,284.1 485.7,283.8 485.3,283.6 484.7,283.6 484,283.8 483.4,284.2 482.7,284.7 482,285.4 481.3,286.2 480.6,287.1 480.1,288.1 479.6,289.1 479.1,290.1 478.8,291.1 478.6,292.1 478.6,292.9 478.6,293.7 478.8,294.3 479.1,294.8" fill="#fff" stroke="#1a1a1a" stroke-width="0.9" stroke-linejoin="round"/><polygon points="477,294.3 477.1,293 477.4,291.7 477.8,290.3 478.4,288.9 479.1,287.5 479.9,286.2 480.8,284.9 481.7,283.8 482.7,282.9 483.6,282.2 484.6,281.7 485.5,281.4 486.3,281.4 486.9,281.6 491.7,284.2 492.2,284.6 492.6,285.3 492.9,286.2 493,287.3 492.9,288.5 492.6,289.8 492.2,291.2 491.6,292.6 490.9,294 490.1,295.4 489.2,296.6 488.3,297.7 487.3,298.6 486.3,299.4 485.4,299.9 484.5,300.1 483.7,300.2 483,300 478.3,297.4 477.7,296.9 477.3,296.2 477.1,295.3" fill="#fff" stroke="#1a1a1a" stroke-width="1" stroke-linejoin="round"/><polygon points="483,300 483.7,300.2 484.5,300.1 485.4,299.9 486.3,299.4 487.3,298.6 488.3,297.7 489.2,296.6 490.1,295.4 490.9,294 491.6,292.6 492.2,291.2 492.6,289.8 492.9,288.5 493,287.3 492.9,286.2 492.6,285.3 492.2,284.6 491.7,284.2 491,284 490.2,284 489.3,284.3 488.4,284.8 487.4,285.5 486.4,286.4 485.5,287.5 484.6,288.8 483.8,290.1 483.1,291.5 482.5,292.9 482.1,294.3 481.9,295.6 481.8,296.9 481.8,297.9 482.1,298.8 482.5,299.5" fill="#fff" stroke="#1a1a1a" stroke-width="0.9" stroke-linejoin="round"/><polygon points="483.6,295.3 483.7,294.4 483.9,293.6 484.1,292.6 484.5,291.7 485,290.8 485.5,289.9 486.1,289.1 486.8,288.3 487.4,287.7 488.1,287.2 488.7,286.9 489.3,286.7 489.8,286.7 490.2,286.8 493.4,288.5 493.8,288.8 494,289.3 494.2,289.9 494.2,290.6 494.2,291.4 494,292.3 493.7,293.2 493.4,294.2 492.9,295.1 492.4,296 491.8,296.8 491.1,297.6 490.5,298.2 489.8,298.7 489.2,299 488.6,299.2 488.1,299.2 487.6,299.1 484.5,297.3 484.1,297 483.8,296.6 483.7,296" fill="#fff" stroke="#1a1a1a" stroke-width="1" stroke-linejoin="round"/><polygon points="487.6,299.1 488.1,299.2 488.6,299.2 489.2,299 489.8,298.7 490.5,298.2 491.1,297.6 491.8,296.8 492.3,296 492.9,295.1 493.4,294.2 493.7,293.2 494,292.3 494.2,291.4 494.3,290.6 494.2,289.9 494,289.3 493.8,288.8 493.4,288.5 493,288.4 492.4,288.4 491.8,288.6 491.2,288.9 490.6,289.4 489.9,290 489.3,290.8 488.7,291.6 488.2,292.5 487.7,293.4 487.3,294.4 487,295.3 486.9,296.2 486.8,297 486.8,297.7 487,298.3 487.3,298.8" fill="#fff" stroke="#1a1a1a" stroke-width="0.9" stroke-linejoin="round"/><polygon points="483.4,299.9 483.5,298.4 483.8,296.7 484.4,294.9 485.1,293.1 486,291.3 487,289.6 488.1,288 489.4,286.6 490.6,285.4 491.8,284.5 493,283.8 494.2,283.5 495.2,283.4 496.1,283.7 500.8,286.3 501.5,286.9 502,287.8 502.3,288.9 502.4,290.3 502.3,291.8 501.9,293.5 501.4,295.3 500.7,297.1 499.8,298.9 498.8,300.6 497.6,302.2 496.4,303.6 495.2,304.8 493.9,305.7 492.7,306.4 491.6,306.7 490.6,306.8 489.7,306.5 485,303.9 484.3,303.3 483.8,302.4 483.5,301.3" fill="#fff" stroke="#1a1a1a" stroke-width="1" stroke-linejoin="round"/><polygon points="489.7,306.5 490.6,306.8 491.6,306.7 492.7,306.4 493.9,305.7 495.2,304.8 496.4,303.6 497.6,302.2 498.8,300.6 499.8,298.9 500.7,297.1 501.4,295.3 502,293.5 502.3,291.8 502.4,290.3 502.3,288.9 502,287.8 501.5,286.9 500.8,286.3 499.9,286 498.9,286.1 497.8,286.4 496.6,287.1 495.3,288 494.1,289.2 492.9,290.6 491.8,292.2 490.7,293.9 489.8,295.7 489.1,297.5 488.6,299.3 488.2,301 488.1,302.5 488.2,303.9 488.5,305 489,305.9" fill="#fff" stroke="#1a1a1a" stroke-width="0.9" stroke-linejoin="round"/><polygon points="491.8,299.3 491.9,298.6 492.1,297.8 492.3,296.9 492.7,296.1 493.1,295.2 493.6,294.4 494.1,293.6 494.7,293 495.3,292.4 495.9,291.9 496.5,291.6 497,291.5 497.5,291.4 497.9,291.6 502.6,294.2 503,294.5 503.2,294.9 503.4,295.4 503.4,296.1 503.4,296.8 503.2,297.6 502.9,298.5 502.6,299.3 502.2,300.2 501.7,301 501.1,301.8 500.6,302.4 500,303 499.4,303.5 498.8,303.8 498.3,303.9 497.8,304 497.4,303.8 492.6,301.2 492.3,300.9 492,300.5 491.9,300" fill="#fff" stroke="#1a1a1a" stroke-width="1" stroke-linejoin="round"/><polygon points="497.4,303.8 497.8,304 498.3,303.9 498.8,303.8 499.4,303.5 500,303 500.6,302.4 501.1,301.8 501.7,301 502.2,300.2 502.6,299.3 502.9,298.5 503.2,297.6 503.4,296.8 503.4,296.1 503.4,295.4 503.2,294.9 503,294.5 502.6,294.2 502.2,294 501.7,294.1 501.2,294.2 500.6,294.5 500,295 499.4,295.6 498.9,296.2 498.3,297 497.8,297.8 497.4,298.7 497.1,299.5 496.8,300.4 496.6,301.2 496.6,301.9 496.6,302.6 496.8,303.1 497,303.5" fill="#fff" stroke="#1a1a1a" stroke-width="0.9" stroke-linejoin="round"/>
<polygon points="529.3,317.3 530.8,318.9 529.9,320.5 527.8,320 526.9,321.3 527.8,323.4 526.6,324.8 524.9,323.5 523.8,324.5 524.1,327 522.6,328 521.4,326.1 520.1,326.8 519.8,329.4 518.3,329.9 517.7,327.6 516.4,327.8 515.4,330.4 513.9,330.4 514,327.8 512.7,327.6 511.3,329.9 509.9,329.3 510.5,326.7 509.5,326.1 507.6,327.9 506.5,326.9 507.7,324.5 507,323.4 504.8,324.7 504.1,323.3 505.8,321.2 505.3,319.8 503.1,320.4 502.8,318.7 504.8,317.2 504.7,315.6 502.6,315.5 502.7,313.6 504.9,312.7 505.2,311.1 503.3,310.2 503.8,308.4 506,308.2 506.7,306.7 505.2,305.1 506.1,303.5 508.2,304 509.1,302.7 508.2,300.6 509.4,299.2 511.1,300.5 512.2,299.5 511.9,297 513.4,296 514.6,297.9 515.9,297.2 516.2,294.6 517.7,294.1 518.3,296.4 519.6,296.2 520.6,293.6 522.1,293.6 522,296.2 523.3,296.4 524.7,294.1 526.1,294.7 525.5,297.3 526.5,297.9 528.4,296.1 529.5,297.1 528.3,299.5 529,300.6 531.2,299.3 531.9,300.7 530.2,302.8 530.7,304.2 532.9,303.6 533.2,305.3 531.2,306.8 531.3,308.4 533.4,308.5 533.3,310.4 531.1,311.3 530.8,312.9 532.7,313.8 532.2,315.6 530,315.8" fill="#fff" stroke="#1a1a1a" stroke-width="1" stroke-linejoin="round"/><polygon points="529.3,297 526.3,295.5 509.7,328.5 512.7,330" fill="#fff" stroke="none" stroke-width="0" stroke-linejoin="round"/><polygon points="532.3,318.8 533.8,320.4 532.9,322 530.8,321.5 529.9,322.8 530.8,324.9 529.6,326.3 527.9,325 526.8,326 527.1,328.5 525.6,329.5 524.4,327.6 523.1,328.3 522.8,330.9 521.3,331.4 520.7,329.1 519.4,329.3 518.4,331.9 516.9,331.9 517,329.3 515.7,329.1 514.3,331.4 512.9,330.8 513.5,328.2 512.5,327.6 510.6,329.4 509.5,328.4 510.7,326 510,324.9 507.8,326.2 507.1,324.8 508.8,322.7 508.3,321.3 506.1,321.9 505.8,320.2 507.8,318.7 507.7,317.1 505.6,317 505.7,315.1 507.9,314.2 508.2,312.6 506.3,311.7 506.8,309.9 509,309.7 509.7,308.2 508.2,306.6 509.1,305 511.2,305.5 512.1,304.2 511.2,302.1 512.4,300.7 514.1,302 515.2,301 514.9,298.5 516.4,297.5 517.6,299.4 518.9,298.7 519.2,296.1 520.7,295.6 521.3,297.9 522.6,297.7 523.6,295.1 525.1,295.1 525,297.7 526.3,297.9 527.7,295.6 529.1,296.2 528.5,298.8 529.5,299.4 531.4,297.6 532.5,298.6 531.3,301 532,302.1 534.2,300.8 534.9,302.2 533.2,304.3 533.7,305.7 535.9,305.1 536.2,306.8 534.2,308.3 534.3,309.9 536.4,310 536.3,311.9 534.1,312.8 533.8,314.4 535.7,315.3 535.2,317.1 533,317.3" fill="#fff" stroke="#1a1a1a" stroke-width="1" stroke-linejoin="round"/>
<polygon points="530.8,318.1 532.3,319.7 531.4,321.3 529.3,320.8 528.4,322.1 529.3,324.2 528.1,325.6 526.4,324.3 525.3,325.3 525.6,327.8 524.1,328.8 522.9,326.9 521.6,327.6 521.3,330.2 519.8,330.7 519.2,328.4 517.9,328.6 516.9,331.2 515.4,331.2 515.5,328.6 514.2,328.4 512.8,330.7 511.4,330.1 512,327.5 511,326.9 509.1,328.7 508,327.7 509.2,325.3 508.5,324.2 506.3,325.5 505.6,324.1 507.3,322 506.8,320.6 504.6,321.2 504.3,319.5 506.3,318 506.2,316.4 504.1,316.3 504.2,314.4 506.4,313.5 506.7,311.9 504.8,311 505.3,309.2 507.5,309 508.2,307.5 506.7,305.9 507.6,304.3 509.7,304.8 510.6,303.5 509.7,301.4 510.9,300 512.6,301.3 513.7,300.3 513.4,297.8 514.9,296.8 516.1,298.7 517.4,298 517.7,295.4 519.2,294.9 519.8,297.2 521.1,297 522.1,294.4 523.6,294.4 523.5,297 524.8,297.2 526.2,294.9 527.6,295.5 527,298.1 528,298.7 529.9,296.9 531,297.9 529.8,300.3 530.5,301.4 532.7,300.1 533.4,301.5 531.7,303.6 532.2,305 534.4,304.4 534.7,306.1 532.7,307.6 532.8,309.2 534.9,309.3 534.8,311.2 532.6,312.1 532.3,313.7 534.2,314.6 533.7,316.4 531.5,316.6" fill="#fff" stroke="#1a1a1a" stroke-width="1" stroke-linejoin="round"/><polygon points="528.8,296.7 527.3,296 511.7,329.6 513.2,330.3" fill="#fff" stroke="none" stroke-width="0" stroke-linejoin="round"/><polygon points="532.3,318.8 533.8,320.4 532.9,322 530.8,321.5 529.9,322.8 530.8,324.9 529.6,326.3 527.9,325 526.8,326 527.1,328.5 525.6,329.5 524.4,327.6 523.1,328.3 522.8,330.9 521.3,331.4 520.7,329.1 519.4,329.3 518.4,331.9 516.9,331.9 517,329.3 515.7,329.1 514.3,331.4 512.9,330.8 513.5,328.2 512.5,327.6 510.6,329.4 509.5,328.4 510.7,326 510,324.9 507.8,326.2 507.1,324.8 508.8,322.7 508.3,321.3 506.1,321.9 505.8,320.2 507.8,318.7 507.7,317.1 505.6,317 505.7,315.1 507.9,314.2 508.2,312.6 506.3,311.7 506.8,309.9 509,309.7 509.7,308.2 508.2,306.6 509.1,305 511.2,305.5 512.1,304.2 511.2,302.1 512.4,300.7 514.1,302 515.2,301 514.9,298.5 516.4,297.5 517.6,299.4 518.9,298.7 519.2,296.1 520.7,295.6 521.3,297.9 522.6,297.7 523.6,295.1 525.1,295.1 525,297.7 526.3,297.9 527.7,295.6 529.1,296.2 528.5,298.8 529.5,299.4 531.4,297.6 532.5,298.6 531.3,301 532,302.1 534.2,300.8 534.9,302.2 533.2,304.3 533.7,305.7 535.9,305.1 536.2,306.8 534.2,308.3 534.3,309.9 536.4,310 536.3,311.9 534.1,312.8 533.8,314.4 535.7,315.3 535.2,317.1 533,317.3" fill="#fff" stroke="#1a1a1a" stroke-width="1" stroke-linejoin="round"/>
<ellipse cx="522.5" cy="315" rx="10" ry="13.5" fill="none" stroke="#1a1a1a" stroke-width="0.8" transform="rotate(25 522.5 315)"/>
<ellipse cx="523.5" cy="316" rx="6.8" ry="9.8" fill="#fff" stroke="#1a1a1a" stroke-width="1.2" transform="rotate(25 523.5 316)"/>
<ellipse cx="524.5" cy="317" rx="4.8" ry="7.5" fill="#fff" stroke="#1a1a1a" stroke-width="0.9" transform="rotate(25 524.5 317)"/>
<polygon points="471.3,341.8 472.8,343.4 471.9,345 469.8,344.5 468.9,345.8 469.8,347.9 468.6,349.3 466.9,348 465.8,349 466.1,351.5 464.6,352.5 463.4,350.6 462.1,351.3 461.8,353.9 460.3,354.4 459.7,352.1 458.4,352.3 457.4,354.9 455.9,354.9 456,352.3 454.7,352.1 453.3,354.4 451.9,353.8 452.5,351.2 451.5,350.6 449.6,352.4 448.5,351.4 449.7,349 449,347.9 446.8,349.2 446.1,347.8 447.8,345.7 447.3,344.3 445.1,344.9 444.8,343.2 446.8,341.7 446.7,340.1 444.6,340 444.7,338.1 446.9,337.2 447.2,335.6 445.3,334.7 445.8,332.9 448,332.7 448.7,331.2 447.2,329.6 448.1,328 450.2,328.5 451.1,327.2 450.2,325.1 451.4,323.7 453.1,325 454.2,324 453.9,321.5 455.4,320.5 456.6,322.4 457.9,321.7 458.2,319.1 459.7,318.6 460.3,320.9 461.6,320.7 462.6,318.1 464.1,318.1 464,320.7 465.3,320.9 466.7,318.6 468.1,319.2 467.5,321.8 468.5,322.4 470.4,320.6 471.5,321.6 470.3,324 471,325.1 473.2,323.8 473.9,325.2 472.2,327.3 472.7,328.7 474.9,328.1 475.2,329.8 473.2,331.3 473.3,332.9 475.4,333 475.3,334.9 473.1,335.8 472.8,337.4 474.7,338.3 474.2,340.1 472,340.3" fill="#fff" stroke="#1a1a1a" stroke-width="1" stroke-linejoin="round"/><polygon points="471.3,321.5 468.3,320 451.7,353 454.7,354.5" fill="#fff" stroke="none" stroke-width="0" stroke-linejoin="round"/><polygon points="474.3,343.3 475.8,344.9 474.9,346.5 472.8,346 471.9,347.3 472.8,349.4 471.6,350.8 469.9,349.5 468.8,350.5 469.1,353 467.6,354 466.4,352.1 465.1,352.8 464.8,355.4 463.3,355.9 462.7,353.6 461.4,353.8 460.4,356.4 458.9,356.4 459,353.8 457.7,353.6 456.3,355.9 454.9,355.3 455.5,352.7 454.5,352.1 452.6,353.9 451.5,352.9 452.7,350.5 452,349.4 449.8,350.7 449.1,349.3 450.8,347.2 450.3,345.8 448.1,346.4 447.8,344.7 449.8,343.2 449.7,341.6 447.6,341.5 447.7,339.6 449.9,338.7 450.2,337.1 448.3,336.2 448.8,334.4 451,334.2 451.7,332.7 450.2,331.1 451.1,329.5 453.2,330 454.1,328.7 453.2,326.6 454.4,325.2 456.1,326.5 457.2,325.5 456.9,323 458.4,322 459.6,323.9 460.9,323.2 461.2,320.6 462.7,320.1 463.3,322.4 464.6,322.2 465.6,319.6 467.1,319.6 467,322.2 468.3,322.4 469.7,320.1 471.1,320.7 470.5,323.3 471.5,323.9 473.4,322.1 474.5,323.1 473.3,325.5 474,326.6 476.2,325.3 476.9,326.7 475.2,328.8 475.7,330.2 477.9,329.6 478.2,331.3 476.2,332.8 476.3,334.4 478.4,334.5 478.3,336.4 476.1,337.3 475.8,338.9 477.7,339.8 477.2,341.6 475,341.8" fill="#fff" stroke="#1a1a1a" stroke-width="1" stroke-linejoin="round"/>
<polygon points="472.8,342.6 474.3,344.2 473.4,345.8 471.3,345.3 470.4,346.6 471.3,348.7 470.1,350.1 468.4,348.8 467.3,349.8 467.6,352.3 466.1,353.3 464.9,351.4 463.6,352.1 463.3,354.7 461.8,355.2 461.2,352.9 459.9,353.1 458.9,355.7 457.4,355.7 457.5,353.1 456.2,352.9 454.8,355.2 453.4,354.6 454,352 453,351.4 451.1,353.2 450,352.2 451.2,349.8 450.5,348.7 448.3,350 447.6,348.6 449.3,346.5 448.8,345.1 446.6,345.7 446.3,344 448.3,342.5 448.2,340.9 446.1,340.8 446.2,338.9 448.4,338 448.7,336.4 446.8,335.5 447.3,333.7 449.5,333.5 450.2,332 448.7,330.4 449.6,328.8 451.7,329.3 452.6,328 451.7,325.9 452.9,324.5 454.6,325.8 455.7,324.8 455.4,322.3 456.9,321.3 458.1,323.2 459.4,322.5 459.7,319.9 461.2,319.4 461.8,321.7 463.1,321.5 464.1,318.9 465.6,318.9 465.5,321.5 466.8,321.7 468.2,319.4 469.6,320 469,322.6 470,323.2 471.9,321.4 473,322.4 471.8,324.8 472.5,325.9 474.7,324.6 475.4,326 473.7,328.1 474.2,329.5 476.4,328.9 476.7,330.6 474.7,332.1 474.8,333.7 476.9,333.8 476.8,335.7 474.6,336.6 474.3,338.2 476.2,339.1 475.7,340.9 473.5,341.1" fill="#fff" stroke="#1a1a1a" stroke-width="1" stroke-linejoin="round"/><polygon points="470.8,321.2 469.3,320.5 453.7,354.1 455.2,354.8" fill="#fff" stroke="none" stroke-width="0" stroke-linejoin="round"/><polygon points="474.3,343.3 475.8,344.9 474.9,346.5 472.8,346 471.9,347.3 472.8,349.4 471.6,350.8 469.9,349.5 468.8,350.5 469.1,353 467.6,354 466.4,352.1 465.1,352.8 464.8,355.4 463.3,355.9 462.7,353.6 461.4,353.8 460.4,356.4 458.9,356.4 459,353.8 457.7,353.6 456.3,355.9 454.9,355.3 455.5,352.7 454.5,352.1 452.6,353.9 451.5,352.9 452.7,350.5 452,349.4 449.8,350.7 449.1,349.3 450.8,347.2 450.3,345.8 448.1,346.4 447.8,344.7 449.8,343.2 449.7,341.6 447.6,341.5 447.7,339.6 449.9,338.7 450.2,337.1 448.3,336.2 448.8,334.4 451,334.2 451.7,332.7 450.2,331.1 451.1,329.5 453.2,330 454.1,328.7 453.2,326.6 454.4,325.2 456.1,326.5 457.2,325.5 456.9,323 458.4,322 459.6,323.9 460.9,323.2 461.2,320.6 462.7,320.1 463.3,322.4 464.6,322.2 465.6,319.6 467.1,319.6 467,322.2 468.3,322.4 469.7,320.1 471.1,320.7 470.5,323.3 471.5,323.9 473.4,322.1 474.5,323.1 473.3,325.5 474,326.6 476.2,325.3 476.9,326.7 475.2,328.8 475.7,330.2 477.9,329.6 478.2,331.3 476.2,332.8 476.3,334.4 478.4,334.5 478.3,336.4 476.1,337.3 475.8,338.9 477.7,339.8 477.2,341.6 475,341.8" fill="#fff" stroke="#1a1a1a" stroke-width="1" stroke-linejoin="round"/>
<ellipse cx="464.5" cy="339.5" rx="10" ry="13.5" fill="none" stroke="#1a1a1a" stroke-width="0.8" transform="rotate(25 464.5 339.5)"/>
<ellipse cx="465.5" cy="340.5" rx="6.8" ry="9.8" fill="#fff" stroke="#1a1a1a" stroke-width="1.2" transform="rotate(25 465.5 340.5)"/>
<ellipse cx="466.5" cy="341.5" rx="4.8" ry="7.5" fill="#fff" stroke="#1a1a1a" stroke-width="0.9" transform="rotate(25 466.5 341.5)"/>
<path d="M587 371C592 367.9 599.2 367.9 605 366.5C610.8 365.1 617.2 363.6 622 362.5C626.8 361.4 630.8 360.2 634 360.2C637.2 360.2 639.3 360.5 641 362.5C642.7 364.5 644 368.2 644 372C644 375.8 643 381.4 641 385C639 388.6 636.8 390.5 632 393.5C627.2 396.5 618.2 400.2 612 403C605.8 405.8 599.8 408.4 595 410.5C590.2 412.6 586.8 415.2 583.5 415.5C580.2 415.8 577 414.8 575 412C573 409.2 571.5 403.5 571.5 399C571.5 394.5 572.4 389.7 575 385C577.6 380.3 582 374.1 587 371Z" fill="none" stroke="#1a1a1a" stroke-width="1" stroke-dasharray="5 2"/>
<path d="M590 376.5C594.2 374 600.7 373.4 606 372C611.3 370.6 617.5 369 622 368C626.5 367 630.4 365.8 633 365.8C635.6 365.8 636.6 366.5 637.5 368C638.4 369.5 638.8 372.3 638.5 375C638.2 377.7 637.2 381.4 635.5 384C633.8 386.6 632.2 388.1 628 390.5C623.8 392.9 615.7 396.1 610 398.5C604.3 400.9 598.2 403.2 594 405C589.8 406.8 587.5 408.8 585 409C582.5 409.2 580.2 408.3 579 406.5C577.8 404.7 577.2 401.2 577.5 398C577.8 394.8 578.4 390.6 580.5 387C582.6 383.4 585.8 379 590 376.5Z" fill="none" stroke="#1a1a1a" stroke-width="1" stroke-dasharray="5 2"/>
<path d="M597 369C595.3 369.5 590.2 370.2 587 372C583.8 373.8 580.2 376.3 578 379.5C575.8 382.7 574.2 386.9 573.5 391C572.8 395.1 572.6 400.4 573.5 404C574.4 407.6 576.2 411.1 579 412.5C581.8 413.9 586.8 413.1 590 412.5C593.2 411.9 596.7 409.6 598 409" fill="none" stroke="#333" stroke-width="4.2"/>
<path d="M597 369C595.3 369.5 590.2 370.2 587 372C583.8 373.8 580.2 376.3 578 379.5C575.8 382.7 574.2 386.9 573.5 391C572.8 395.1 572.6 400.4 573.5 404C574.4 407.6 576.2 411.1 579 412.5C581.8 413.9 586.8 413.1 590 412.5C593.2 411.9 596.7 409.6 598 409" fill="none" stroke="#fff" stroke-width="2.2" stroke-dasharray="2 1.4"/>
<path d="M596 366.5C594.3 366.8 589.4 366.8 586 368.5C582.6 370.2 578 373.2 575.5 377C573 380.8 571.5 386.3 570.8 391C570 395.7 569.8 400.8 571 405C572.2 409.2 574.8 414.1 578 416C581.2 417.9 586.7 417.1 590 416.5C593.3 415.9 596.7 413.2 598 412.5" fill="none" stroke="#1a1a1a" stroke-width="1"/>
<polygon points="580.8,475 611,465.8 621.8,472.6 621.8,475 590.5,486.5 580.8,477.5" fill="#fff" stroke="#1a1a1a" stroke-width="1" stroke-linejoin="round"/>
<polyline points="580.8,475 590.5,484 621.8,472.6" fill="none" stroke="#1a1a1a" stroke-width="1" stroke-linejoin="round"/>
<polygon points="584.5,468.5 598,464.5 601.5,466.5 588,471" fill="#fff" stroke="#1a1a1a" stroke-width="1" stroke-linejoin="round"/>
<path d="M600 437.5l2 6" stroke="#1a1a1a" stroke-width="2.2"/>
<ellipse cx="602" cy="435.5" rx="3" ry="1.6" fill="#fff" stroke="#1a1a1a" stroke-width="1" transform="rotate(10 602 435.5)"/>
<ellipse cx="178.8" cy="569.5" rx="8.1" ry="5.4" fill="#fff" stroke="#1a1a1a" stroke-width="1"/><polyline points="172,572 175,574" fill="none" stroke="#1a1a1a" stroke-width="1.4" stroke-linejoin="round"/><polyline points="183,574 186,571" fill="none" stroke="#1a1a1a" stroke-width="1.4" stroke-linejoin="round"/><path d="M169.6 586.4V595.6A9.2 5.5 0 0 0 188 595.6V586.4" fill="#fff" stroke="#1a1a1a" stroke-width="1"/><ellipse cx="178.8" cy="586.4" rx="9.2" ry="5.6" fill="#fff" stroke="#1a1a1a" stroke-width="1.1"/><ellipse cx="178.8" cy="587.4" rx="7.2" ry="4.2" fill="#fff" stroke="#1a1a1a" stroke-width="0.8"/><path d="M176.5 588.5q2.3 1.5 4.6 0M178.8 586.6v1.5" stroke="#1a1a1a" fill="none" stroke-width="0.8"/><polygon points="174.5,611 181,610 181.5,613 178.5,614 178,619 175,618" fill="#fff" stroke="#1a1a1a" stroke-width="1" stroke-linejoin="round"/><polygon points="178.5,614 184,613 184,619.5 179,620.5" fill="#fff" stroke="#1a1a1a" stroke-width="1" stroke-linejoin="round"/><path d="M171.2 635A7.8 4.8 0 0 0 186.8 635L183 642A4 1.6 0 0 1 175 642Z" fill="#fff" stroke="#1a1a1a" stroke-width="1"/><ellipse cx="179" cy="635" rx="7.8" ry="4.8" fill="#fff" stroke="#1a1a1a" stroke-width="1"/><ellipse cx="179" cy="635.3" rx="4.5" ry="2.6" fill="#fff" stroke="#1a1a1a" stroke-width="0.9"/><polyline points="175.5,642.3 182.5,642.3" fill="none" stroke="#1a1a1a" stroke-width="2" stroke-linejoin="round"/><path d="M171.2 648.5A7.9 4.4 0 0 0 186.9 648.5" fill="none" stroke="#1a1a1a" stroke-width="1"/><path d="M171.2 650.8A7.9 4.4 0 0 0 186.9 650.8" fill="none" stroke="#1a1a1a" stroke-width="1"/><path d="M171.2 653.1A7.9 4.4 0 0 0 186.9 653.1" fill="none" stroke="#1a1a1a" stroke-width="1"/><path d="M171.2 655.4A7.9 4.4 0 0 0 186.9 655.4" fill="none" stroke="#1a1a1a" stroke-width="1"/><path d="M171.2 657.7A7.9 4.4 0 0 0 186.9 657.7" fill="none" stroke="#1a1a1a" stroke-width="1"/><path d="M171.2 660A7.9 4.4 0 0 0 186.9 660" fill="none" stroke="#1a1a1a" stroke-width="1"/><path d="M171.2 662.3A7.9 4.4 0 0 0 186.9 662.3" fill="none" stroke="#1a1a1a" stroke-width="1"/><path d="M171.2 664.6A7.9 4.4 0 0 0 186.9 664.6" fill="none" stroke="#1a1a1a" stroke-width="1"/><path d="M171.2 666.9A7.9 4.4 0 0 0 186.9 666.9" fill="none" stroke="#1a1a1a" stroke-width="1"/><path d="M171.2 669.2A7.9 4.4 0 0 0 186.9 669.2" fill="none" stroke="#1a1a1a" stroke-width="1"/><path d="M171.2 671.5A7.9 4.4 0 0 0 186.9 671.5" fill="none" stroke="#1a1a1a" stroke-width="1"/><path d="M171.2 673.8A7.9 4.4 0 0 0 186.9 673.8" fill="none" stroke="#1a1a1a" stroke-width="1"/><path d="M171.2 676.1A7.9 4.4 0 0 0 186.9 676.1" fill="none" stroke="#1a1a1a" stroke-width="1"/><polyline points="171.2,648.9 171.2,680.9" fill="none" stroke="#1a1a1a" stroke-width="1" stroke-linejoin="round"/><polyline points="186.9,648.9 186.9,680.9" fill="none" stroke="#1a1a1a" stroke-width="1" stroke-linejoin="round"/><path d="M174.2 698.5C174 694 176 692.2 179 692.2C182 692.2 184 694 183.8 698.5A4.8 2.6 0 0 1 174.2 698.5Z" fill="#fff" stroke="#1a1a1a" stroke-width="1"/><ellipse cx="179" cy="698.3" rx="4.8" ry="2.3" fill="#fff" stroke="#1a1a1a" stroke-width="0.9"/><ellipse cx="179" cy="700" rx="4.6" ry="2.4" fill="none" stroke="#1a1a1a" stroke-width="0.9"/><path d="M171.2 715.3V717.5A7.8 3.8 0 0 0 186.8 717.5V715.3" fill="#fff" stroke="#1a1a1a" stroke-width="1"/><ellipse cx="179" cy="715.3" rx="7.8" ry="4.2" fill="#fff" stroke="#1a1a1a" stroke-width="1.1"/><ellipse cx="179" cy="714.8" rx="5" ry="2.4" fill="#fff" stroke="#1a1a1a" stroke-width="0.9"/><path d="M175.3 729V771.5M182.2 729V771.5M175.3 771.5V778.5Q175 783 168.2 785.5M182.2 771.5V778.5Q182.5 783 189.2 785.5" fill="none" stroke="#1a1a1a" stroke-width="1"/><ellipse cx="178.7" cy="729.2" rx="3.4" ry="2" fill="#fff" stroke="#1a1a1a" stroke-width="0.9"/><polyline points="175.3,731.8 182.2,731.8" fill="none" stroke="#1a1a1a" stroke-width="0.8" stroke-linejoin="round"/><polyline points="175.3,733.7 182.2,733.7" fill="none" stroke="#1a1a1a" stroke-width="0.8" stroke-linejoin="round"/><polyline points="175.3,771.5 182.2,771.5" fill="none" stroke="#1a1a1a" stroke-width="0.8" stroke-linejoin="round"/><ellipse cx="178.6" cy="786" rx="11.2" ry="6.5" fill="none" stroke="#1a1a1a" stroke-width="1.1"/><path d="M168 786.5A10.6 5.3 0 0 0 189.2 786.5" fill="none" stroke="#1a1a1a" stroke-width="0.9"/><ellipse cx="310.4" cy="617.4" rx="8" ry="4.2" fill="#fff" stroke="#1a1a1a" stroke-width="1" transform="rotate(12 310.4 617.4)"/><g transform="rotate(12 306.5 640)"><path d="M297.3 637V643A9.2 4 0 0 0 315.7 643V637" fill="#fff" stroke="#1a1a1a" stroke-width="1"/></g><ellipse cx="306.5" cy="637.2" rx="9.2" ry="4" fill="#fff" stroke="#1a1a1a" stroke-width="1.1" transform="rotate(12 306.5 637.2)"/><ellipse cx="306.5" cy="637.7" rx="7" ry="2.8" fill="#fff" stroke="#1a1a1a" stroke-width="0.8" transform="rotate(12 306.5 637.7)"/><polygon points="297.5,662.5 304,661.5 304.5,664 301.5,665 301,670 298,669" fill="#fff" stroke="#1a1a1a" stroke-width="1" stroke-linejoin="round"/><polygon points="301.5,665 306.5,664.5 306.5,670.5 302,671" fill="#fff" stroke="#1a1a1a" stroke-width="1" stroke-linejoin="round"/><g transform="rotate(14 297.4 688)"><path d="M290 688A7.4 3.6 0 0 0 304.8 688L302 693.5A4 1.5 0 0 1 293 693.5Z" fill="#fff" stroke="#1a1a1a" stroke-width="1"/></g><ellipse cx="297.4" cy="688" rx="7.4" ry="3.6" fill="#fff" stroke="#1a1a1a" stroke-width="1" transform="rotate(14 297.4 688)"/><ellipse cx="297.8" cy="688.5" rx="4.4" ry="2" fill="#fff" stroke="#1a1a1a" stroke-width="0.9" transform="rotate(14 297.8 688.5)"/><polyline points="293,693.5 302,695" fill="none" stroke="#1a1a1a" stroke-width="1.6" stroke-linejoin="round"/><path d="M285.8 706.1A7.7 4.3 0 0 0 301.1 706.1" fill="none" stroke="#1a1a1a" stroke-width="1.3"/><path d="M287.8 708.3A5.7 3 0 0 0 299.1 708.3" fill="none" stroke="#333" stroke-width="2"/><path d="M285.4 708.4A7.7 4.3 0 0 0 300.7 708.4" fill="none" stroke="#1a1a1a" stroke-width="1.3"/><path d="M287.4 710.6A5.7 3 0 0 0 298.7 710.6" fill="none" stroke="#333" stroke-width="2"/><path d="M285.1 710.8A7.7 4.3 0 0 0 300.4 710.8" fill="none" stroke="#1a1a1a" stroke-width="1.3"/><path d="M287.1 712.9A5.7 3 0 0 0 298.4 712.9" fill="none" stroke="#333" stroke-width="2"/><path d="M284.7 713.1A7.7 4.3 0 0 0 300 713.1" fill="none" stroke="#1a1a1a" stroke-width="1.3"/><path d="M286.7 715.2A5.7 3 0 0 0 298 715.2" fill="none" stroke="#333" stroke-width="2"/><path d="M284.3 715.4A7.7 4.3 0 0 0 299.6 715.4" fill="none" stroke="#1a1a1a" stroke-width="1.3"/><path d="M286.3 717.5A5.7 3 0 0 0 297.6 717.5" fill="none" stroke="#333" stroke-width="2"/><path d="M283.9 717.7A7.7 4.3 0 0 0 299.2 717.7" fill="none" stroke="#1a1a1a" stroke-width="1.3"/><path d="M285.9 719.8A5.7 3 0 0 0 297.2 719.8" fill="none" stroke="#333" stroke-width="2"/><path d="M283.6 720A7.7 4.3 0 0 0 298.9 720" fill="none" stroke="#1a1a1a" stroke-width="1.3"/><path d="M285.6 722.2A5.7 3 0 0 0 296.9 722.2" fill="none" stroke="#333" stroke-width="2"/><path d="M283.2 722.3A7.7 4.3 0 0 0 298.5 722.3" fill="none" stroke="#1a1a1a" stroke-width="1.3"/><path d="M285.2 724.5A5.7 3 0 0 0 296.5 724.5" fill="none" stroke="#333" stroke-width="2"/><polyline points="285.8,706.5 283.2,727.1" fill="none" stroke="#1a1a1a" stroke-width="1" stroke-linejoin="round"/><polyline points="301.1,706.5 298.5,727.1" fill="none" stroke="#1a1a1a" stroke-width="1" stroke-linejoin="round"/><ellipse cx="286" cy="748.5" rx="5.6" ry="3.6" fill="#fff" stroke="#1a1a1a" stroke-width="1" transform="rotate(14 286 748.5)"/><ellipse cx="286.5" cy="747.8" rx="3.6" ry="2.2" fill="#fff" stroke="#1a1a1a" stroke-width="0.9" transform="rotate(14 286.5 747.8)"/><polyline points="281.5,750 285,752.8 290.5,751" fill="none" stroke="#1a1a1a" stroke-width="1.3" stroke-linejoin="round"/><ellipse cx="282.3" cy="768.8" rx="8.6" ry="4.3" fill="#fff" stroke="#1a1a1a" stroke-width="1.2" transform="rotate(10 282.3 768.8)"/><ellipse cx="282.6" cy="768.3" rx="5.5" ry="2.4" fill="#fff" stroke="#1a1a1a" stroke-width="0.9" transform="rotate(10 282.6 768.3)"/><path d="M274 770.5q3 4 9 3.2q6 -0.5 8 -3.5" fill="none" stroke="#1a1a1a" stroke-width="1"/><path d="M275.5 788L270.4 817.1Q269.5 821 262 824.5M282.3 787.2L276.3 817.1Q277 821 283 825" fill="none" stroke="#1a1a1a" stroke-width="1"/><ellipse cx="278.9" cy="786.7" rx="3.4" ry="1.7" fill="#fff" stroke="#1a1a1a" stroke-width="0.9" transform="rotate(8 278.9 786.7)"/><polyline points="270.4,817.1 276.3,817.1" fill="none" stroke="#1a1a1a" stroke-width="0.8" stroke-linejoin="round"/><ellipse cx="272.2" cy="827.3" rx="11" ry="5.4" fill="none" stroke="#1a1a1a" stroke-width="1.1" transform="rotate(-10 272.2 827.3)"/><path d="M261.5 828.5A10.5 4.8 -10 0 0 283 824.8" fill="none" stroke="#1a1a1a" stroke-width="0.9"/>
<path d="M401.6 591.5L386 566 M401.6 591.5H505" stroke="#777" stroke-width="1.6" fill="none"/>
<path d="M382 559L393 571L387 573Z" fill="#000"/>
<path d="M50 800L56 803.5L67.5 797L78 803.5L68.3 809L74.4 813.7L50 813.7Z" fill="#000"/>
<text transform="translate(30.80 26.90) scale(0.915 1)">1140ME</text>
<text transform="translate(109.20 31.00) scale(0.915 1)">24312</text>
<text transform="translate(27.00 116.00) scale(0.915 1)">24412A</text>
<text transform="translate(222.20 100.80) scale(0.915 1)">24211</text>
<text transform="translate(155.00 210.00) scale(0.915 1)">24410</text>
<text transform="translate(12.80 225.60) scale(0.915 1)">1140HD</text>
<text transform="translate(63.60 278.20) scale(0.915 1)">24810A</text>
<text transform="translate(215.00 255.00) scale(0.915 1)">1430JB</text>
<text transform="translate(421.00 165.30) scale(0.915 1)">24100C</text>
<text transform="translate(500.80 268.70) scale(0.915 1)">24322</text>
<text transform="translate(546.90 305.60) scale(0.915 1)">24323</text>
<text transform="translate(588.40 341.90) scale(0.915 1)">24321</text>
<text transform="translate(349.90 410.30) scale(0.915 1)">24200A</text>
<text transform="translate(435.30 396.30) scale(0.915 1)">24322</text>
<text transform="translate(489.70 398.50) scale(0.915 1)">24323</text>
<text transform="translate(520.70 447.00) scale(0.915 1)">1123GF</text>
<text transform="translate(501.40 482.20) scale(0.915 1)">24431B</text>
<text transform="translate(92.20 576.90) scale(0.915 1)">22227A</text>
<text transform="translate(88.90 598.20) scale(0.915 1)">22226C</text>
<text transform="translate(105.30 619.70) scale(0.915 1)">22223</text>
<text transform="translate(208.30 623.80) scale(0.915 1)">22223</text>
<text transform="translate(102.60 643.00) scale(0.915 1)">22222</text>
<text transform="translate(102.60 673.00) scale(0.915 1)">22221</text>
<text transform="translate(94.90 703.60) scale(0.915 1)">22224B</text>
<text transform="translate(101.80 722.80) scale(0.915 1)">22225</text>
<text transform="translate(107.20 769.00) scale(0.915 1)">22212</text>
<text transform="translate(342.40 624.00) scale(0.915 1)">22227A</text>
<text transform="translate(341.00 646.10) scale(0.915 1)">22226C</text>
<text transform="translate(227.70 670.00) scale(0.915 1)">22223</text>
<text transform="translate(330.00 675.00) scale(0.915 1)">22223</text>
<text transform="translate(328.60 695.20) scale(0.915 1)">22222</text>
<text transform="translate(325.10 723.80) scale(0.915 1)">22221</text>
<text transform="translate(315.00 754.10) scale(0.915 1)">22224B</text>
<text transform="translate(314.20 774.90) scale(0.915 1)">22225</text>
<text transform="translate(302.60 817.50) scale(0.915 1)">22211</text>
<text transform="translate(405.90 586.60) scale(0.93 1)" font-weight="700" font-size="16" fill="#333">REF. 20-221</text>
<text transform="translate(15.70 830.80) scale(0.94 1)" font-weight="700" font-size="23.5" fill="#000">FR.</text>
</svg></body></html>
